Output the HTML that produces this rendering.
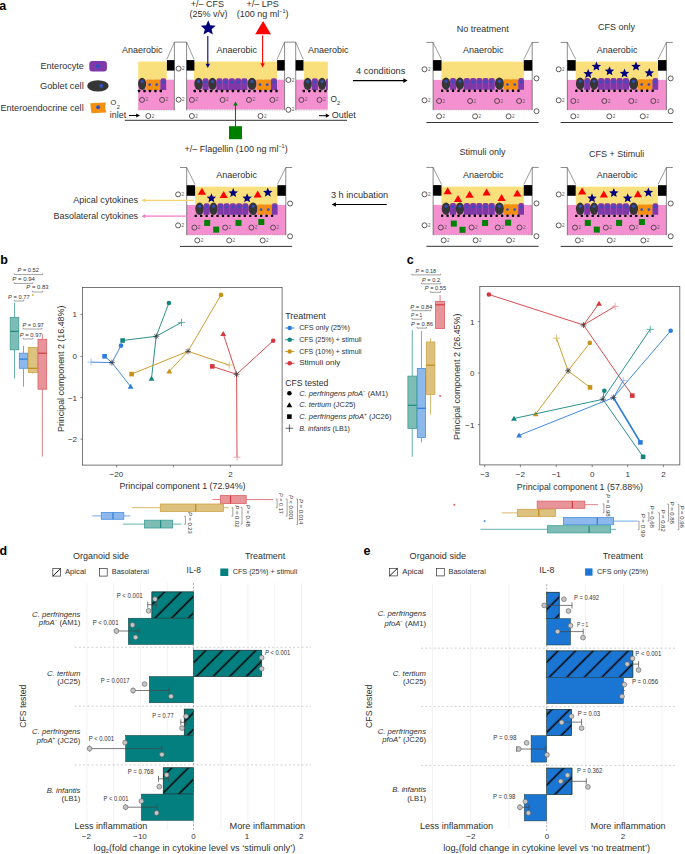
<!DOCTYPE html><html><head><meta charset="utf-8"><title>Figure</title><style>html,body{margin:0;padding:0;background:#fff;width:685px;height:854px;overflow:hidden}svg{display:block;font-family:"Liberation Sans",sans-serif}</style></head><body>
<svg width="685" height="854" viewBox="0 0 685 854">
<defs>
<pattern id="hd" patternUnits="userSpaceOnUse" width="11.77" height="10" patternTransform="rotate(45)"><rect x="4.5" y="0" width="1.5" height="10" fill="#000"/></pattern>
<pattern id="he" patternUnits="userSpaceOnUse" width="12.41" height="10" patternTransform="rotate(45)"><rect x="10.2" y="0" width="1.5" height="10" fill="#000"/></pattern>
</defs>
<rect x="0" y="0" width="685" height="854" fill="#fff"/>
<text x="-0.8" y="9.6" font-size="12.5" fill="#000" font-weight="bold">a</text>
<text x="40.6" y="69.2" font-size="9" fill="#303030" textLength="43.1" lengthAdjust="spacingAndGlyphs">Enterocyte</text>
<text x="40" y="88.8" font-size="9" fill="#303030" textLength="43.7" lengthAdjust="spacingAndGlyphs">Goblet cell</text>
<text x="0.4" y="110.7" font-size="9" fill="#303030" textLength="83.3" lengthAdjust="spacingAndGlyphs">Enteroendocrine cell</text>
<rect x="89.3" y="61" width="17.6" height="10.5" rx="3" fill="#7F38A8"/>
<circle cx="98" cy="66.2" r="2.2" fill="#3350C0"/>
<ellipse cx="97.9" cy="85.9" rx="10.7" ry="5.7" fill="#363636"/>
<circle cx="101.3" cy="85.8" r="2" fill="#3350C0"/>
<path d="M90.3 103.2 L105.8 102.4 L105.2 107.5 L106.2 112.6 L91.5 113.2 L90.8 108.5 Z" fill="#F5900F"/>
<circle cx="98.1" cy="107.2" r="2" fill="#3350C0"/>
<rect x="138.2" y="79.7" width="36.2" height="30.2" fill="#F48FD0"/>
<rect x="186.3" y="79.7" width="98.3" height="29.8" fill="#F48FD0"/>
<rect x="295.7" y="79.7" width="32.1" height="29.8" fill="#F48FD0"/>
<rect x="138.2" y="61.6" width="28.6" height="18.1" fill="#FAE07C"/>
<rect x="194" y="61.6" width="83.2" height="18.1" fill="#FAE07C"/>
<rect x="303.9" y="61.6" width="23.9" height="18.1" fill="#FAE07C"/>
<line x1="138.2" y1="110" x2="174.4" y2="110" stroke="#9a7a8e" stroke-width="0.5" stroke-dasharray="1.5 1"/>
<line x1="186.6" y1="110" x2="284.6" y2="110" stroke="#9a7a8e" stroke-width="0.5" stroke-dasharray="1.5 1"/>
<line x1="295.7" y1="110" x2="327.8" y2="110" stroke="#9a7a8e" stroke-width="0.5" stroke-dasharray="1.5 1"/>
<rect x="174.4" y="42.1" width="12.2" height="68" fill="#fff"/>
<line x1="174.4" y1="42.1" x2="186.6" y2="42.1" stroke="#3a3a3a" stroke-width="0.6"/>
<line x1="174.4" y1="42.1" x2="174.4" y2="110.2" stroke="#3a3a3a" stroke-width="0.6"/>
<line x1="186.6" y1="42.1" x2="186.6" y2="110.2" stroke="#3a3a3a" stroke-width="0.6"/>
<line x1="174.4" y1="42.1" x2="166.8" y2="59.5" stroke="#3a3a3a" stroke-width="0.5"/>
<line x1="186.6" y1="42.1" x2="194.1" y2="59.5" stroke="#3a3a3a" stroke-width="0.5"/>
<rect x="166.9" y="60.1" width="7.5" height="10.5" fill="#000"/>
<rect x="186.6" y="60.1" width="7.8" height="10.5" fill="#000"/>
<rect x="284.6" y="42.1" width="11.1" height="68" fill="#fff"/>
<line x1="284.6" y1="42.1" x2="295.7" y2="42.1" stroke="#3a3a3a" stroke-width="0.6"/>
<line x1="284.6" y1="42.1" x2="284.6" y2="110.2" stroke="#3a3a3a" stroke-width="0.6"/>
<line x1="295.7" y1="42.1" x2="295.7" y2="110.2" stroke="#3a3a3a" stroke-width="0.6"/>
<line x1="284.6" y1="42.1" x2="277" y2="59.5" stroke="#3a3a3a" stroke-width="0.5"/>
<line x1="295.7" y1="42.1" x2="303.2" y2="59.5" stroke="#3a3a3a" stroke-width="0.5"/>
<rect x="277.1" y="60.1" width="7.5" height="10.5" fill="#000"/>
<rect x="295.7" y="60.1" width="7.8" height="10.5" fill="#000"/>
<ellipse cx="142.1" cy="83.9" rx="4" ry="6.2" fill="#363636"/>
<circle cx="142.1" cy="81.42" r="1.5" fill="#3350C0"/>
<rect x="146.3" y="79.5" width="6.8" height="10.4" rx="0.6" fill="#F5900F"/>
<line x1="153.2" y1="80.5" x2="153.2" y2="88.9" stroke="#c87010" stroke-width="0.4" stroke-dasharray="1 1"/>
<circle cx="149.7" cy="84.7" r="1.35" fill="#3350C0"/>
<rect x="153.3" y="79.5" width="6.8" height="10.4" rx="0.6" fill="#F5900F"/>
<line x1="160.2" y1="80.5" x2="160.2" y2="88.9" stroke="#c87010" stroke-width="0.4" stroke-dasharray="1 1"/>
<circle cx="156.7" cy="84.7" r="1.35" fill="#3350C0"/>
<path d="M160.4 89.9 V80.5 Q160.4 78.3 162.6 78.3 H164 Q166.2 78.3 166.2 80.5 V89.9 Z" fill="#7F38A8"/>
<circle cx="163.3" cy="82.13" r="1.45" fill="#3350C0"/>
<ellipse cx="198.6" cy="83.9" rx="4.3" ry="6.2" fill="#363636"/>
<circle cx="198.6" cy="81.42" r="1.5" fill="#3350C0"/>
<path d="M202.6 89.9 V80.5 Q202.6 78.3 204.8 78.3 H206.4 Q208.6 78.3 208.6 80.5 V89.9 Z" fill="#7F38A8"/>
<circle cx="205.6" cy="82.13" r="1.45" fill="#3350C0"/>
<ellipse cx="212.5" cy="83.9" rx="4.2" ry="6.2" fill="#363636"/>
<circle cx="212.5" cy="81.42" r="1.5" fill="#3350C0"/>
<path d="M216.4 89.9 V80.5 Q216.4 78.3 218.6 78.3 H220.4 Q222.6 78.3 222.6 80.5 V89.9 Z" fill="#7F38A8"/>
<circle cx="219.5" cy="82.13" r="1.45" fill="#3350C0"/>
<path d="M222.6 89.9 V80.5 Q222.6 78.3 224.8 78.3 H226.6 Q228.8 78.3 228.8 80.5 V89.9 Z" fill="#7F38A8"/>
<circle cx="225.7" cy="82.13" r="1.45" fill="#3350C0"/>
<path d="M228.8 89.9 V80.5 Q228.8 78.3 231 78.3 H232.8 Q235 78.3 235 80.5 V89.9 Z" fill="#7F38A8"/>
<circle cx="231.9" cy="82.13" r="1.45" fill="#3350C0"/>
<path d="M235 89.9 V80.5 Q235 78.3 237.2 78.3 H239 Q241.2 78.3 241.2 80.5 V89.9 Z" fill="#7F38A8"/>
<circle cx="238.1" cy="82.13" r="1.45" fill="#3350C0"/>
<path d="M241.2 89.9 V80.5 Q241.2 78.3 243.4 78.3 H245.2 Q247.4 78.3 247.4 80.5 V89.9 Z" fill="#7F38A8"/>
<circle cx="244.3" cy="82.13" r="1.45" fill="#3350C0"/>
<ellipse cx="252" cy="83.9" rx="4.5" ry="6.2" fill="#363636"/>
<circle cx="252" cy="81.42" r="1.5" fill="#3350C0"/>
<rect x="256.5" y="79.5" width="7.1" height="10.4" rx="0.6" fill="#F5900F"/>
<line x1="263.7" y1="80.5" x2="263.7" y2="88.9" stroke="#c87010" stroke-width="0.4" stroke-dasharray="1 1"/>
<circle cx="260.05" cy="84.7" r="1.35" fill="#3350C0"/>
<rect x="263.8" y="79.5" width="7" height="10.4" rx="0.6" fill="#F5900F"/>
<line x1="270.9" y1="80.5" x2="270.9" y2="88.9" stroke="#c87010" stroke-width="0.4" stroke-dasharray="1 1"/>
<circle cx="267.3" cy="84.7" r="1.35" fill="#3350C0"/>
<path d="M270.9 89.9 V80.5 Q270.9 78.3 273.1 78.3 H274.8 Q277 78.3 277 80.5 V89.9 Z" fill="#7F38A8"/>
<circle cx="273.95" cy="82.13" r="1.45" fill="#3350C0"/>
<ellipse cx="307.7" cy="83.9" rx="4.1" ry="6.2" fill="#363636"/>
<circle cx="307.7" cy="81.42" r="1.5" fill="#3350C0"/>
<path d="M311.8 89.9 V80.5 Q311.8 78.3 314 78.3 H315.7 Q317.9 78.3 317.9 80.5 V89.9 Z" fill="#7F38A8"/>
<circle cx="314.85" cy="82.13" r="1.45" fill="#3350C0"/>
<ellipse cx="322.05" cy="83.9" rx="4.05" ry="6.2" fill="#363636"/>
<circle cx="322.05" cy="81.42" r="1.5" fill="#3350C0"/>
<path d="M326 89.9 V80.5 Q326 78.3 328.2 78.3 H328.8 Q331 78.3 331 80.5 V89.9 Z" fill="#7F38A8"/>
<circle cx="328.5" cy="82.13" r="1.45" fill="#3350C0"/>
<rect x="327.8" y="75" width="6" height="20" fill="#fff"/>
<rect x="137.9" y="89.8" width="2.3" height="2.4" rx="0.4" fill="#000"/>
<rect x="143.35" y="89.8" width="2.3" height="2.4" rx="0.4" fill="#000"/>
<rect x="148.8" y="89.8" width="2.3" height="2.4" rx="0.4" fill="#000"/>
<rect x="154.25" y="89.8" width="2.3" height="2.4" rx="0.4" fill="#000"/>
<rect x="159.7" y="89.8" width="2.3" height="2.4" rx="0.4" fill="#000"/>
<rect x="193.6" y="89.8" width="2.3" height="2.4" rx="0.4" fill="#000"/>
<rect x="199.05" y="89.8" width="2.3" height="2.4" rx="0.4" fill="#000"/>
<rect x="204.5" y="89.8" width="2.3" height="2.4" rx="0.4" fill="#000"/>
<rect x="209.95" y="89.8" width="2.3" height="2.4" rx="0.4" fill="#000"/>
<rect x="215.4" y="89.8" width="2.3" height="2.4" rx="0.4" fill="#000"/>
<rect x="220.85" y="89.8" width="2.3" height="2.4" rx="0.4" fill="#000"/>
<rect x="226.3" y="89.8" width="2.3" height="2.4" rx="0.4" fill="#000"/>
<rect x="231.75" y="89.8" width="2.3" height="2.4" rx="0.4" fill="#000"/>
<rect x="237.2" y="89.8" width="2.3" height="2.4" rx="0.4" fill="#000"/>
<rect x="242.65" y="89.8" width="2.3" height="2.4" rx="0.4" fill="#000"/>
<rect x="248.1" y="89.8" width="2.3" height="2.4" rx="0.4" fill="#000"/>
<rect x="253.55" y="89.8" width="2.3" height="2.4" rx="0.4" fill="#000"/>
<rect x="259" y="89.8" width="2.3" height="2.4" rx="0.4" fill="#000"/>
<rect x="264.45" y="89.8" width="2.3" height="2.4" rx="0.4" fill="#000"/>
<rect x="269.9" y="89.8" width="2.3" height="2.4" rx="0.4" fill="#000"/>
<rect x="275.35" y="89.8" width="2.3" height="2.4" rx="0.4" fill="#000"/>
<rect x="302.7" y="89.8" width="2.3" height="2.4" rx="0.4" fill="#000"/>
<rect x="308.1" y="89.8" width="2.3" height="2.4" rx="0.4" fill="#000"/>
<rect x="313.5" y="89.8" width="2.3" height="2.4" rx="0.4" fill="#000"/>
<rect x="318.9" y="89.8" width="2.3" height="2.4" rx="0.4" fill="#000"/>
<rect x="324.3" y="89.8" width="2.3" height="2.4" rx="0.4" fill="#000"/>
<circle cx="142" cy="99.9" r="2.5" fill="none" stroke="#333" stroke-width="0.8"/>
<text x="145.4" y="101.4" font-size="4.6" fill="#5a5a5a">2</text>
<circle cx="162.1" cy="99.9" r="2.5" fill="none" stroke="#333" stroke-width="0.8"/>
<text x="165.5" y="101.4" font-size="4.6" fill="#5a5a5a">2</text>
<circle cx="191.9" cy="99.9" r="2.5" fill="none" stroke="#333" stroke-width="0.8"/>
<text x="195.3" y="101.4" font-size="4.6" fill="#5a5a5a">2</text>
<circle cx="222.6" cy="99.9" r="2.5" fill="none" stroke="#333" stroke-width="0.8"/>
<text x="226" y="101.4" font-size="4.6" fill="#5a5a5a">2</text>
<circle cx="249" cy="99.9" r="2.5" fill="none" stroke="#333" stroke-width="0.8"/>
<text x="252.4" y="101.4" font-size="4.6" fill="#5a5a5a">2</text>
<circle cx="272.4" cy="99.9" r="2.5" fill="none" stroke="#333" stroke-width="0.8"/>
<text x="275.8" y="101.4" font-size="4.6" fill="#5a5a5a">2</text>
<circle cx="301.4" cy="99.9" r="2.5" fill="none" stroke="#333" stroke-width="0.8"/>
<text x="304.8" y="101.4" font-size="4.6" fill="#5a5a5a">2</text>
<circle cx="319.5" cy="99.9" r="2.5" fill="none" stroke="#333" stroke-width="0.8"/>
<text x="322.9" y="101.4" font-size="4.6" fill="#5a5a5a">2</text>
<circle cx="178.6" cy="68.6" r="2.5" fill="none" stroke="#333" stroke-width="0.8"/>
<text x="182" y="70.1" font-size="4.6" fill="#5a5a5a">2</text>
<circle cx="178.6" cy="99.7" r="2.5" fill="none" stroke="#333" stroke-width="0.8"/>
<text x="182" y="101.2" font-size="4.6" fill="#5a5a5a">2</text>
<circle cx="288.4" cy="80" r="2.5" fill="none" stroke="#333" stroke-width="0.8"/>
<text x="291.8" y="81.5" font-size="4.6" fill="#5a5a5a">2</text>
<circle cx="288.4" cy="109.8" r="2.5" fill="none" stroke="#333" stroke-width="0.8"/>
<text x="291.8" y="111.3" font-size="4.6" fill="#5a5a5a">2</text>
<circle cx="148.3" cy="116" r="2.5" fill="none" stroke="#333" stroke-width="0.8"/>
<text x="151.7" y="117.5" font-size="4.6" fill="#5a5a5a">2</text>
<circle cx="191.9" cy="116" r="2.5" fill="none" stroke="#333" stroke-width="0.8"/>
<text x="195.3" y="117.5" font-size="4.6" fill="#5a5a5a">2</text>
<circle cx="260.5" cy="116" r="2.5" fill="none" stroke="#333" stroke-width="0.8"/>
<text x="263.9" y="117.5" font-size="4.6" fill="#5a5a5a">2</text>
<line x1="124.8" y1="120.3" x2="347" y2="120.3" stroke="#333" stroke-width="1"/>
<text x="110.6" y="105" font-size="7.4" fill="#303030">O</text>
<text x="116.8" y="108.8" font-size="5.6" fill="#303030">2</text>
<text x="109.8" y="117.6" font-size="9" fill="#303030" textLength="16.4" lengthAdjust="spacingAndGlyphs">inlet</text>
<path d="M129 115.5 H138.5" fill="none" stroke="#000" stroke-width="1"/>
<path d="M136.2 113.4 L140 115.5 L136.2 117.6 Z" fill="#000"/>
<text x="330.6" y="102" font-size="8.3" fill="#303030">O</text>
<text x="337" y="104.8" font-size="5.6" fill="#303030">2</text>
<path d="M319 115.7 H327.8" fill="none" stroke="#000" stroke-width="1"/>
<path d="M325.8 113.6 L329.6 115.7 L325.8 117.8 Z" fill="#000"/>
<text x="331.7" y="118.2" font-size="9" fill="#303030">Outlet</text>
<text x="122" y="52.7" font-size="9" fill="#303030" textLength="40.6" lengthAdjust="spacingAndGlyphs">Anaerobic</text>
<text x="216.4" y="52.6" font-size="9" fill="#303030" textLength="40.6" lengthAdjust="spacingAndGlyphs">Anaerobic</text>
<text x="308" y="52.6" font-size="9" fill="#303030" textLength="40.6" lengthAdjust="spacingAndGlyphs">Anaerobic</text>
<text x="207.5" y="6.7" font-size="9" fill="#303030" text-anchor="middle">+/– CFS</text>
<text x="208.4" y="16.6" font-size="9" fill="#303030" text-anchor="middle">(25% v/v)</text>
<text x="262.7" y="6.7" font-size="9" fill="#303030" text-anchor="middle">+/– LPS</text>
<text x="262.6" y="16.6" font-size="9" fill="#303030" text-anchor="middle">(100 ng ml<tspan font-size="5.5" dy="-3.5">−1</tspan><tspan dy="3.5">)</tspan></text>
<polygon points="208.2,20.3 210.29,25.32 215.71,25.76 211.58,29.3 212.84,34.59 208.2,31.75 203.56,34.59 204.82,29.3 200.69,25.76 206.11,25.32" fill="#00007F"/>
<line x1="207.8" y1="36" x2="207.8" y2="65.5" stroke="#00007F" stroke-width="1.1"/>
<path d="M205.6 63.8 L207.8 68 L210 63.8 Z" fill="#00007F"/>
<polygon points="263.1,21 271,34.2 255.2,34.2" fill="#FF0000"/>
<line x1="262.6" y1="35.5" x2="262.6" y2="65" stroke="#FF0000" stroke-width="1.1"/>
<path d="M260.4 63.2 L262.6 67.4 L264.8 63.2 Z" fill="#FF0000"/>
<rect x="229" y="126.2" width="13" height="13" fill="#008000"/>
<line x1="235.5" y1="127" x2="235.5" y2="104.5" stroke="#008000" stroke-width="1.1"/>
<path d="M233.2 105.5 L235.5 101.4 L237.8 105.5 Z" fill="#008000"/>
<text x="184.6" y="151.8" font-size="9" fill="#303030">+/– Flagellin (100 ng ml<tspan font-size="5.5" dy="-3.5">−1</tspan><tspan dy="3.5">)</tspan></text>
<text x="356" y="74.3" font-size="9" fill="#303030" textLength="49.3" lengthAdjust="spacingAndGlyphs">4 conditions</text>
<line x1="353" y1="80.6" x2="404.5" y2="80.6" stroke="#000" stroke-width="1.2"/>
<path d="M403.4 78.3 L407.6 80.6 L403.4 82.9 Z" fill="#000"/>
<text x="482.8" y="31.9" font-size="9" fill="#303030" text-anchor="middle">No treatment</text>
<rect x="433.1" y="79.9" width="99.1" height="29.9" fill="#F48FD0"/>
<rect x="441.5" y="61.6" width="82.5" height="18.3" fill="#FAE07C"/>
<line x1="433.1" y1="109.8" x2="532.2" y2="109.8" stroke="#9a7a8e" stroke-width="0.5" stroke-dasharray="1.5 1"/>
<line x1="426.4" y1="42.4" x2="433.1" y2="42.4" stroke="#3a3a3a" stroke-width="0.6"/>
<line x1="433.1" y1="42.4" x2="433.1" y2="110" stroke="#3a3a3a" stroke-width="0.6"/>
<line x1="433.1" y1="42.4" x2="441.5" y2="59.4" stroke="#3a3a3a" stroke-width="0.5"/>
<line x1="532.2" y1="42.4" x2="538.6" y2="42.4" stroke="#3a3a3a" stroke-width="0.6"/>
<line x1="532.2" y1="42.4" x2="532.2" y2="110" stroke="#3a3a3a" stroke-width="0.6"/>
<line x1="532.2" y1="42.4" x2="523.8" y2="59.4" stroke="#3a3a3a" stroke-width="0.5"/>
<rect x="433.1" y="60.1" width="8.4" height="10.6" fill="#000"/>
<rect x="523.8" y="60.1" width="8.4" height="10.6" fill="#000"/>
<ellipse cx="446" cy="83.7" rx="4.3" ry="6.2" fill="#363636"/>
<circle cx="446" cy="81.22" r="1.5" fill="#3350C0"/>
<path d="M450 89.7 V80.3 Q450 78.1 452.2 78.1 H453.8 Q456 78.1 456 80.3 V89.7 Z" fill="#7F38A8"/>
<circle cx="453" cy="81.93" r="1.45" fill="#3350C0"/>
<ellipse cx="459.9" cy="83.7" rx="4.2" ry="6.2" fill="#363636"/>
<circle cx="459.9" cy="81.22" r="1.5" fill="#3350C0"/>
<path d="M463.8 89.7 V80.3 Q463.8 78.1 466 78.1 H467.8 Q470 78.1 470 80.3 V89.7 Z" fill="#7F38A8"/>
<circle cx="466.9" cy="81.93" r="1.45" fill="#3350C0"/>
<path d="M470 89.7 V80.3 Q470 78.1 472.2 78.1 H474 Q476.2 78.1 476.2 80.3 V89.7 Z" fill="#7F38A8"/>
<circle cx="473.1" cy="81.93" r="1.45" fill="#3350C0"/>
<path d="M476.2 89.7 V80.3 Q476.2 78.1 478.4 78.1 H480.2 Q482.4 78.1 482.4 80.3 V89.7 Z" fill="#7F38A8"/>
<circle cx="479.3" cy="81.93" r="1.45" fill="#3350C0"/>
<path d="M482.4 89.7 V80.3 Q482.4 78.1 484.6 78.1 H486.4 Q488.6 78.1 488.6 80.3 V89.7 Z" fill="#7F38A8"/>
<circle cx="485.5" cy="81.93" r="1.45" fill="#3350C0"/>
<path d="M488.6 89.7 V80.3 Q488.6 78.1 490.8 78.1 H492.6 Q494.8 78.1 494.8 80.3 V89.7 Z" fill="#7F38A8"/>
<circle cx="491.7" cy="81.93" r="1.45" fill="#3350C0"/>
<ellipse cx="499.4" cy="83.7" rx="4.5" ry="6.2" fill="#363636"/>
<circle cx="499.4" cy="81.22" r="1.5" fill="#3350C0"/>
<rect x="503.9" y="79.3" width="7.1" height="10.4" rx="0.6" fill="#F5900F"/>
<line x1="511.1" y1="80.3" x2="511.1" y2="88.7" stroke="#c87010" stroke-width="0.4" stroke-dasharray="1 1"/>
<circle cx="507.45" cy="84.5" r="1.35" fill="#3350C0"/>
<rect x="511.2" y="79.3" width="7" height="10.4" rx="0.6" fill="#F5900F"/>
<line x1="518.3" y1="80.3" x2="518.3" y2="88.7" stroke="#c87010" stroke-width="0.4" stroke-dasharray="1 1"/>
<circle cx="514.7" cy="84.5" r="1.35" fill="#3350C0"/>
<path d="M518.3 89.7 V80.3 Q518.3 78.1 520.5 78.1 H521.8 Q524 78.1 524 80.3 V89.7 Z" fill="#7F38A8"/>
<circle cx="521.15" cy="81.93" r="1.45" fill="#3350C0"/>
<rect x="441" y="89.6" width="2.3" height="2.4" rx="0.4" fill="#000"/>
<rect x="446.45" y="89.6" width="2.3" height="2.4" rx="0.4" fill="#000"/>
<rect x="451.9" y="89.6" width="2.3" height="2.4" rx="0.4" fill="#000"/>
<rect x="457.35" y="89.6" width="2.3" height="2.4" rx="0.4" fill="#000"/>
<rect x="462.8" y="89.6" width="2.3" height="2.4" rx="0.4" fill="#000"/>
<rect x="468.25" y="89.6" width="2.3" height="2.4" rx="0.4" fill="#000"/>
<rect x="473.7" y="89.6" width="2.3" height="2.4" rx="0.4" fill="#000"/>
<rect x="479.15" y="89.6" width="2.3" height="2.4" rx="0.4" fill="#000"/>
<rect x="484.6" y="89.6" width="2.3" height="2.4" rx="0.4" fill="#000"/>
<rect x="490.05" y="89.6" width="2.3" height="2.4" rx="0.4" fill="#000"/>
<rect x="495.5" y="89.6" width="2.3" height="2.4" rx="0.4" fill="#000"/>
<rect x="500.95" y="89.6" width="2.3" height="2.4" rx="0.4" fill="#000"/>
<rect x="506.4" y="89.6" width="2.3" height="2.4" rx="0.4" fill="#000"/>
<rect x="511.85" y="89.6" width="2.3" height="2.4" rx="0.4" fill="#000"/>
<rect x="517.3" y="89.6" width="2.3" height="2.4" rx="0.4" fill="#000"/>
<circle cx="439.1" cy="101" r="2.5" fill="none" stroke="#333" stroke-width="0.8"/>
<text x="442.5" y="102.5" font-size="4.6" fill="#5a5a5a">2</text>
<circle cx="470.1" cy="101" r="2.5" fill="none" stroke="#333" stroke-width="0.8"/>
<text x="473.5" y="102.5" font-size="4.6" fill="#5a5a5a">2</text>
<circle cx="497.1" cy="101" r="2.5" fill="none" stroke="#333" stroke-width="0.8"/>
<text x="500.5" y="102.5" font-size="4.6" fill="#5a5a5a">2</text>
<circle cx="519.1" cy="101" r="2.5" fill="none" stroke="#333" stroke-width="0.8"/>
<text x="522.5" y="102.5" font-size="4.6" fill="#5a5a5a">2</text>
<circle cx="424.5" cy="69.3" r="2.5" fill="none" stroke="#333" stroke-width="0.8"/>
<text x="427.9" y="70.8" font-size="4.6" fill="#5a5a5a">2</text>
<circle cx="424.5" cy="100.3" r="2.5" fill="none" stroke="#333" stroke-width="0.8"/>
<text x="427.9" y="101.8" font-size="4.6" fill="#5a5a5a">2</text>
<circle cx="536.5" cy="78.4" r="2.5" fill="none" stroke="#333" stroke-width="0.8"/>
<circle cx="536.5" cy="111.2" r="2.5" fill="none" stroke="#333" stroke-width="0.8"/>
<circle cx="439.1" cy="116.3" r="2.5" fill="none" stroke="#333" stroke-width="0.8"/>
<text x="442.5" y="117.8" font-size="4.6" fill="#5a5a5a">2</text>
<circle cx="475.1" cy="116.3" r="2.5" fill="none" stroke="#333" stroke-width="0.8"/>
<text x="478.5" y="117.8" font-size="4.6" fill="#5a5a5a">2</text>
<circle cx="508.6" cy="116.3" r="2.5" fill="none" stroke="#333" stroke-width="0.8"/>
<text x="512" y="117.8" font-size="4.6" fill="#5a5a5a">2</text>
<line x1="426.4" y1="122.5" x2="538.6" y2="122.5" stroke="#333" stroke-width="1"/>
<text x="462.9" y="52.8" font-size="9" fill="#303030" textLength="40.6" lengthAdjust="spacingAndGlyphs">Anaerobic</text>
<text x="616.5" y="29.9" font-size="9" fill="#303030" text-anchor="middle">CFS only</text>
<rect x="567.3" y="79.9" width="99.1" height="29.9" fill="#F48FD0"/>
<rect x="575.7" y="61.6" width="82.5" height="18.3" fill="#FAE07C"/>
<line x1="567.3" y1="109.8" x2="666.4" y2="109.8" stroke="#9a7a8e" stroke-width="0.5" stroke-dasharray="1.5 1"/>
<line x1="560.6" y1="42.4" x2="567.3" y2="42.4" stroke="#3a3a3a" stroke-width="0.6"/>
<line x1="567.3" y1="42.4" x2="567.3" y2="110" stroke="#3a3a3a" stroke-width="0.6"/>
<line x1="567.3" y1="42.4" x2="575.7" y2="59.4" stroke="#3a3a3a" stroke-width="0.5"/>
<line x1="666.4" y1="42.4" x2="672.8" y2="42.4" stroke="#3a3a3a" stroke-width="0.6"/>
<line x1="666.4" y1="42.4" x2="666.4" y2="110" stroke="#3a3a3a" stroke-width="0.6"/>
<line x1="666.4" y1="42.4" x2="658" y2="59.4" stroke="#3a3a3a" stroke-width="0.5"/>
<rect x="567.3" y="60.1" width="8.4" height="10.6" fill="#000"/>
<rect x="658" y="60.1" width="8.4" height="10.6" fill="#000"/>
<ellipse cx="580.2" cy="83.7" rx="4.3" ry="6.2" fill="#363636"/>
<circle cx="580.2" cy="81.22" r="1.5" fill="#3350C0"/>
<path d="M584.2 89.7 V80.3 Q584.2 78.1 586.4 78.1 H588 Q590.2 78.1 590.2 80.3 V89.7 Z" fill="#7F38A8"/>
<circle cx="587.2" cy="81.93" r="1.45" fill="#3350C0"/>
<ellipse cx="594.1" cy="83.7" rx="4.2" ry="6.2" fill="#363636"/>
<circle cx="594.1" cy="81.22" r="1.5" fill="#3350C0"/>
<path d="M598 89.7 V80.3 Q598 78.1 600.2 78.1 H602 Q604.2 78.1 604.2 80.3 V89.7 Z" fill="#7F38A8"/>
<circle cx="601.1" cy="81.93" r="1.45" fill="#3350C0"/>
<path d="M604.2 89.7 V80.3 Q604.2 78.1 606.4 78.1 H608.2 Q610.4 78.1 610.4 80.3 V89.7 Z" fill="#7F38A8"/>
<circle cx="607.3" cy="81.93" r="1.45" fill="#3350C0"/>
<path d="M610.4 89.7 V80.3 Q610.4 78.1 612.6 78.1 H614.4 Q616.6 78.1 616.6 80.3 V89.7 Z" fill="#7F38A8"/>
<circle cx="613.5" cy="81.93" r="1.45" fill="#3350C0"/>
<path d="M616.6 89.7 V80.3 Q616.6 78.1 618.8 78.1 H620.6 Q622.8 78.1 622.8 80.3 V89.7 Z" fill="#7F38A8"/>
<circle cx="619.7" cy="81.93" r="1.45" fill="#3350C0"/>
<path d="M622.8 89.7 V80.3 Q622.8 78.1 625 78.1 H626.8 Q629 78.1 629 80.3 V89.7 Z" fill="#7F38A8"/>
<circle cx="625.9" cy="81.93" r="1.45" fill="#3350C0"/>
<ellipse cx="633.6" cy="83.7" rx="4.5" ry="6.2" fill="#363636"/>
<circle cx="633.6" cy="81.22" r="1.5" fill="#3350C0"/>
<rect x="638.1" y="79.3" width="7.1" height="10.4" rx="0.6" fill="#F5900F"/>
<line x1="645.3" y1="80.3" x2="645.3" y2="88.7" stroke="#c87010" stroke-width="0.4" stroke-dasharray="1 1"/>
<circle cx="641.65" cy="84.5" r="1.35" fill="#3350C0"/>
<rect x="645.4" y="79.3" width="7" height="10.4" rx="0.6" fill="#F5900F"/>
<line x1="652.5" y1="80.3" x2="652.5" y2="88.7" stroke="#c87010" stroke-width="0.4" stroke-dasharray="1 1"/>
<circle cx="648.9" cy="84.5" r="1.35" fill="#3350C0"/>
<path d="M652.5 89.7 V80.3 Q652.5 78.1 654.7 78.1 H656 Q658.2 78.1 658.2 80.3 V89.7 Z" fill="#7F38A8"/>
<circle cx="655.35" cy="81.93" r="1.45" fill="#3350C0"/>
<rect x="575.2" y="89.6" width="2.3" height="2.4" rx="0.4" fill="#000"/>
<rect x="580.65" y="89.6" width="2.3" height="2.4" rx="0.4" fill="#000"/>
<rect x="586.1" y="89.6" width="2.3" height="2.4" rx="0.4" fill="#000"/>
<rect x="591.55" y="89.6" width="2.3" height="2.4" rx="0.4" fill="#000"/>
<rect x="597" y="89.6" width="2.3" height="2.4" rx="0.4" fill="#000"/>
<rect x="602.45" y="89.6" width="2.3" height="2.4" rx="0.4" fill="#000"/>
<rect x="607.9" y="89.6" width="2.3" height="2.4" rx="0.4" fill="#000"/>
<rect x="613.35" y="89.6" width="2.3" height="2.4" rx="0.4" fill="#000"/>
<rect x="618.8" y="89.6" width="2.3" height="2.4" rx="0.4" fill="#000"/>
<rect x="624.25" y="89.6" width="2.3" height="2.4" rx="0.4" fill="#000"/>
<rect x="629.7" y="89.6" width="2.3" height="2.4" rx="0.4" fill="#000"/>
<rect x="635.15" y="89.6" width="2.3" height="2.4" rx="0.4" fill="#000"/>
<rect x="640.6" y="89.6" width="2.3" height="2.4" rx="0.4" fill="#000"/>
<rect x="646.05" y="89.6" width="2.3" height="2.4" rx="0.4" fill="#000"/>
<rect x="651.5" y="89.6" width="2.3" height="2.4" rx="0.4" fill="#000"/>
<circle cx="573.3" cy="101" r="2.5" fill="none" stroke="#333" stroke-width="0.8"/>
<text x="576.7" y="102.5" font-size="4.6" fill="#5a5a5a">2</text>
<circle cx="604.3" cy="101" r="2.5" fill="none" stroke="#333" stroke-width="0.8"/>
<text x="607.7" y="102.5" font-size="4.6" fill="#5a5a5a">2</text>
<circle cx="631.3" cy="101" r="2.5" fill="none" stroke="#333" stroke-width="0.8"/>
<text x="634.7" y="102.5" font-size="4.6" fill="#5a5a5a">2</text>
<circle cx="653.3" cy="101" r="2.5" fill="none" stroke="#333" stroke-width="0.8"/>
<text x="656.7" y="102.5" font-size="4.6" fill="#5a5a5a">2</text>
<circle cx="558.7" cy="69.3" r="2.5" fill="none" stroke="#333" stroke-width="0.8"/>
<text x="562.1" y="70.8" font-size="4.6" fill="#5a5a5a">2</text>
<circle cx="558.7" cy="100.3" r="2.5" fill="none" stroke="#333" stroke-width="0.8"/>
<text x="562.1" y="101.8" font-size="4.6" fill="#5a5a5a">2</text>
<circle cx="670.7" cy="78.4" r="2.5" fill="none" stroke="#333" stroke-width="0.8"/>
<circle cx="670.7" cy="111.2" r="2.5" fill="none" stroke="#333" stroke-width="0.8"/>
<circle cx="573.3" cy="116.3" r="2.5" fill="none" stroke="#333" stroke-width="0.8"/>
<text x="576.7" y="117.8" font-size="4.6" fill="#5a5a5a">2</text>
<circle cx="609.3" cy="116.3" r="2.5" fill="none" stroke="#333" stroke-width="0.8"/>
<text x="612.7" y="117.8" font-size="4.6" fill="#5a5a5a">2</text>
<circle cx="642.8" cy="116.3" r="2.5" fill="none" stroke="#333" stroke-width="0.8"/>
<text x="646.2" y="117.8" font-size="4.6" fill="#5a5a5a">2</text>
<line x1="560.6" y1="122.5" x2="672.8" y2="122.5" stroke="#333" stroke-width="1"/>
<polygon points="588.2,68.9 589.52,72.08 592.96,72.35 590.34,74.6 591.14,77.95 588.2,76.15 585.26,77.95 586.06,74.6 583.44,72.35 586.88,72.08" fill="#00007F"/>
<polygon points="596.4,61.5 597.72,64.68 601.16,64.95 598.54,67.2 599.34,70.55 596.4,68.75 593.46,70.55 594.26,67.2 591.64,64.95 595.08,64.68" fill="#00007F"/>
<polygon points="609.5,66.3 610.82,69.48 614.26,69.75 611.64,72 612.44,75.35 609.5,73.55 606.56,75.35 607.36,72 604.74,69.75 608.18,69.48" fill="#00007F"/>
<polygon points="624.5,68.5 625.82,71.68 629.26,71.95 626.64,74.2 627.44,77.55 624.5,75.75 621.56,77.55 622.36,74.2 619.74,71.95 623.18,71.68" fill="#00007F"/>
<polygon points="636,61.5 637.32,64.68 640.76,64.95 638.14,67.2 638.94,70.55 636,68.75 633.06,70.55 633.86,67.2 631.24,64.95 634.68,64.68" fill="#00007F"/>
<polygon points="649.3,68 650.62,71.18 654.06,71.45 651.44,73.7 652.24,77.05 649.3,75.25 646.36,77.05 647.16,73.7 644.54,71.45 647.98,71.18" fill="#00007F"/>
<text x="596.8" y="52.8" font-size="9" fill="#303030" textLength="40.6" lengthAdjust="spacingAndGlyphs">Anaerobic</text>
<text x="482.6" y="154.6" font-size="9" fill="#303030" text-anchor="middle">Stimuli only</text>
<rect x="433.1" y="204.9" width="99.1" height="29.9" fill="#F48FD0"/>
<rect x="441.5" y="186.6" width="82.5" height="18.3" fill="#FAE07C"/>
<line x1="433.1" y1="234.8" x2="532.2" y2="234.8" stroke="#9a7a8e" stroke-width="0.5" stroke-dasharray="1.5 1"/>
<line x1="426.4" y1="167.4" x2="433.1" y2="167.4" stroke="#3a3a3a" stroke-width="0.6"/>
<line x1="433.1" y1="167.4" x2="433.1" y2="235" stroke="#3a3a3a" stroke-width="0.6"/>
<line x1="433.1" y1="167.4" x2="441.5" y2="184.4" stroke="#3a3a3a" stroke-width="0.5"/>
<line x1="532.2" y1="167.4" x2="538.6" y2="167.4" stroke="#3a3a3a" stroke-width="0.6"/>
<line x1="532.2" y1="167.4" x2="532.2" y2="235" stroke="#3a3a3a" stroke-width="0.6"/>
<line x1="532.2" y1="167.4" x2="523.8" y2="184.4" stroke="#3a3a3a" stroke-width="0.5"/>
<rect x="433.1" y="185.1" width="8.4" height="10.6" fill="#000"/>
<rect x="523.8" y="185.1" width="8.4" height="10.6" fill="#000"/>
<ellipse cx="446" cy="208.7" rx="4.3" ry="6.2" fill="#363636"/>
<circle cx="446" cy="206.22" r="1.5" fill="#3350C0"/>
<path d="M450 214.7 V205.3 Q450 203.1 452.2 203.1 H453.8 Q456 203.1 456 205.3 V214.7 Z" fill="#7F38A8"/>
<circle cx="453" cy="206.93" r="1.45" fill="#3350C0"/>
<ellipse cx="459.9" cy="208.7" rx="4.2" ry="6.2" fill="#363636"/>
<circle cx="459.9" cy="206.22" r="1.5" fill="#3350C0"/>
<path d="M463.8 214.7 V205.3 Q463.8 203.1 466 203.1 H467.8 Q470 203.1 470 205.3 V214.7 Z" fill="#7F38A8"/>
<circle cx="466.9" cy="206.93" r="1.45" fill="#3350C0"/>
<path d="M470 214.7 V205.3 Q470 203.1 472.2 203.1 H474 Q476.2 203.1 476.2 205.3 V214.7 Z" fill="#7F38A8"/>
<circle cx="473.1" cy="206.93" r="1.45" fill="#3350C0"/>
<path d="M476.2 214.7 V205.3 Q476.2 203.1 478.4 203.1 H480.2 Q482.4 203.1 482.4 205.3 V214.7 Z" fill="#7F38A8"/>
<circle cx="479.3" cy="206.93" r="1.45" fill="#3350C0"/>
<path d="M482.4 214.7 V205.3 Q482.4 203.1 484.6 203.1 H486.4 Q488.6 203.1 488.6 205.3 V214.7 Z" fill="#7F38A8"/>
<circle cx="485.5" cy="206.93" r="1.45" fill="#3350C0"/>
<path d="M488.6 214.7 V205.3 Q488.6 203.1 490.8 203.1 H492.6 Q494.8 203.1 494.8 205.3 V214.7 Z" fill="#7F38A8"/>
<circle cx="491.7" cy="206.93" r="1.45" fill="#3350C0"/>
<ellipse cx="499.4" cy="208.7" rx="4.5" ry="6.2" fill="#363636"/>
<circle cx="499.4" cy="206.22" r="1.5" fill="#3350C0"/>
<rect x="503.9" y="204.3" width="7.1" height="10.4" rx="0.6" fill="#F5900F"/>
<line x1="511.1" y1="205.3" x2="511.1" y2="213.7" stroke="#c87010" stroke-width="0.4" stroke-dasharray="1 1"/>
<circle cx="507.45" cy="209.5" r="1.35" fill="#3350C0"/>
<rect x="511.2" y="204.3" width="7" height="10.4" rx="0.6" fill="#F5900F"/>
<line x1="518.3" y1="205.3" x2="518.3" y2="213.7" stroke="#c87010" stroke-width="0.4" stroke-dasharray="1 1"/>
<circle cx="514.7" cy="209.5" r="1.35" fill="#3350C0"/>
<path d="M518.3 214.7 V205.3 Q518.3 203.1 520.5 203.1 H521.8 Q524 203.1 524 205.3 V214.7 Z" fill="#7F38A8"/>
<circle cx="521.15" cy="206.93" r="1.45" fill="#3350C0"/>
<rect x="441" y="214.6" width="2.3" height="2.4" rx="0.4" fill="#000"/>
<rect x="446.45" y="214.6" width="2.3" height="2.4" rx="0.4" fill="#000"/>
<rect x="451.9" y="214.6" width="2.3" height="2.4" rx="0.4" fill="#000"/>
<rect x="457.35" y="214.6" width="2.3" height="2.4" rx="0.4" fill="#000"/>
<rect x="462.8" y="214.6" width="2.3" height="2.4" rx="0.4" fill="#000"/>
<rect x="468.25" y="214.6" width="2.3" height="2.4" rx="0.4" fill="#000"/>
<rect x="473.7" y="214.6" width="2.3" height="2.4" rx="0.4" fill="#000"/>
<rect x="479.15" y="214.6" width="2.3" height="2.4" rx="0.4" fill="#000"/>
<rect x="484.6" y="214.6" width="2.3" height="2.4" rx="0.4" fill="#000"/>
<rect x="490.05" y="214.6" width="2.3" height="2.4" rx="0.4" fill="#000"/>
<rect x="495.5" y="214.6" width="2.3" height="2.4" rx="0.4" fill="#000"/>
<rect x="500.95" y="214.6" width="2.3" height="2.4" rx="0.4" fill="#000"/>
<rect x="506.4" y="214.6" width="2.3" height="2.4" rx="0.4" fill="#000"/>
<rect x="511.85" y="214.6" width="2.3" height="2.4" rx="0.4" fill="#000"/>
<rect x="517.3" y="214.6" width="2.3" height="2.4" rx="0.4" fill="#000"/>
<circle cx="440.8" cy="227.5" r="2.5" fill="none" stroke="#333" stroke-width="0.8"/>
<text x="444.2" y="229" font-size="4.6" fill="#5a5a5a">2</text>
<circle cx="471.6" cy="227.5" r="2.5" fill="none" stroke="#333" stroke-width="0.8"/>
<text x="475" y="229" font-size="4.6" fill="#5a5a5a">2</text>
<circle cx="497.8" cy="227.5" r="2.5" fill="none" stroke="#333" stroke-width="0.8"/>
<text x="501.2" y="229" font-size="4.6" fill="#5a5a5a">2</text>
<circle cx="519.5" cy="227.5" r="2.5" fill="none" stroke="#333" stroke-width="0.8"/>
<text x="522.9" y="229" font-size="4.6" fill="#5a5a5a">2</text>
<circle cx="424.5" cy="194.3" r="2.5" fill="none" stroke="#333" stroke-width="0.8"/>
<text x="427.9" y="195.8" font-size="4.6" fill="#5a5a5a">2</text>
<circle cx="424.5" cy="225.3" r="2.5" fill="none" stroke="#333" stroke-width="0.8"/>
<text x="427.9" y="226.8" font-size="4.6" fill="#5a5a5a">2</text>
<circle cx="536.5" cy="203.4" r="2.5" fill="none" stroke="#333" stroke-width="0.8"/>
<circle cx="536.5" cy="236.2" r="2.5" fill="none" stroke="#333" stroke-width="0.8"/>
<circle cx="443.7" cy="240.3" r="2.5" fill="none" stroke="#333" stroke-width="0.8"/>
<text x="447.1" y="241.8" font-size="4.6" fill="#5a5a5a">2</text>
<circle cx="475.6" cy="240.3" r="2.5" fill="none" stroke="#333" stroke-width="0.8"/>
<text x="479" y="241.8" font-size="4.6" fill="#5a5a5a">2</text>
<circle cx="509.1" cy="240.3" r="2.5" fill="none" stroke="#333" stroke-width="0.8"/>
<text x="512.5" y="241.8" font-size="4.6" fill="#5a5a5a">2</text>
<line x1="426.4" y1="246.3" x2="538.6" y2="246.3" stroke="#333" stroke-width="1"/>
<rect x="450.8" y="220.6" width="6" height="6" fill="#008000"/>
<rect x="459.5" y="226.8" width="6" height="6" fill="#008000"/>
<rect x="482.1" y="220" width="6" height="6" fill="#008000"/>
<rect x="505.1" y="219.7" width="6" height="6" fill="#008000"/>
<polygon points="447.7,187.2 451.8,194.2 443.6,194.2" fill="#FF0000"/>
<polygon points="458,194.9 462.1,201.9 453.9,201.9" fill="#FF0000"/>
<polygon points="469.6,190.7 473.7,197.7 465.5,197.7" fill="#FF0000"/>
<polygon points="486.6,188.5 490.7,195.5 482.5,195.5" fill="#FF0000"/>
<polygon points="501.6,194 505.7,201 497.5,201" fill="#FF0000"/>
<polygon points="517.3,189.4 521.4,196.4 513.2,196.4" fill="#FF0000"/>
<text x="462.9" y="177.6" font-size="9" fill="#303030" textLength="40.6" lengthAdjust="spacingAndGlyphs">Anaerobic</text>
<text x="616.7" y="156.7" font-size="9" fill="#303030" text-anchor="middle">CFS + Stimuli</text>
<rect x="567.3" y="205" width="99.1" height="29.9" fill="#F48FD0"/>
<rect x="575.7" y="186.7" width="82.5" height="18.3" fill="#FAE07C"/>
<line x1="567.3" y1="234.9" x2="666.4" y2="234.9" stroke="#9a7a8e" stroke-width="0.5" stroke-dasharray="1.5 1"/>
<line x1="560.6" y1="167.5" x2="567.3" y2="167.5" stroke="#3a3a3a" stroke-width="0.6"/>
<line x1="567.3" y1="167.5" x2="567.3" y2="235.1" stroke="#3a3a3a" stroke-width="0.6"/>
<line x1="567.3" y1="167.5" x2="575.7" y2="184.5" stroke="#3a3a3a" stroke-width="0.5"/>
<line x1="666.4" y1="167.5" x2="672.8" y2="167.5" stroke="#3a3a3a" stroke-width="0.6"/>
<line x1="666.4" y1="167.5" x2="666.4" y2="235.1" stroke="#3a3a3a" stroke-width="0.6"/>
<line x1="666.4" y1="167.5" x2="658" y2="184.5" stroke="#3a3a3a" stroke-width="0.5"/>
<rect x="567.3" y="185.2" width="8.4" height="10.6" fill="#000"/>
<rect x="658" y="185.2" width="8.4" height="10.6" fill="#000"/>
<ellipse cx="580.2" cy="208.8" rx="4.3" ry="6.2" fill="#363636"/>
<circle cx="580.2" cy="206.32" r="1.5" fill="#3350C0"/>
<path d="M584.2 214.8 V205.4 Q584.2 203.2 586.4 203.2 H588 Q590.2 203.2 590.2 205.4 V214.8 Z" fill="#7F38A8"/>
<circle cx="587.2" cy="207.03" r="1.45" fill="#3350C0"/>
<ellipse cx="594.1" cy="208.8" rx="4.2" ry="6.2" fill="#363636"/>
<circle cx="594.1" cy="206.32" r="1.5" fill="#3350C0"/>
<path d="M598 214.8 V205.4 Q598 203.2 600.2 203.2 H602 Q604.2 203.2 604.2 205.4 V214.8 Z" fill="#7F38A8"/>
<circle cx="601.1" cy="207.03" r="1.45" fill="#3350C0"/>
<path d="M604.2 214.8 V205.4 Q604.2 203.2 606.4 203.2 H608.2 Q610.4 203.2 610.4 205.4 V214.8 Z" fill="#7F38A8"/>
<circle cx="607.3" cy="207.03" r="1.45" fill="#3350C0"/>
<path d="M610.4 214.8 V205.4 Q610.4 203.2 612.6 203.2 H614.4 Q616.6 203.2 616.6 205.4 V214.8 Z" fill="#7F38A8"/>
<circle cx="613.5" cy="207.03" r="1.45" fill="#3350C0"/>
<path d="M616.6 214.8 V205.4 Q616.6 203.2 618.8 203.2 H620.6 Q622.8 203.2 622.8 205.4 V214.8 Z" fill="#7F38A8"/>
<circle cx="619.7" cy="207.03" r="1.45" fill="#3350C0"/>
<path d="M622.8 214.8 V205.4 Q622.8 203.2 625 203.2 H626.8 Q629 203.2 629 205.4 V214.8 Z" fill="#7F38A8"/>
<circle cx="625.9" cy="207.03" r="1.45" fill="#3350C0"/>
<ellipse cx="633.6" cy="208.8" rx="4.5" ry="6.2" fill="#363636"/>
<circle cx="633.6" cy="206.32" r="1.5" fill="#3350C0"/>
<rect x="638.1" y="204.4" width="7.1" height="10.4" rx="0.6" fill="#F5900F"/>
<line x1="645.3" y1="205.4" x2="645.3" y2="213.8" stroke="#c87010" stroke-width="0.4" stroke-dasharray="1 1"/>
<circle cx="641.65" cy="209.6" r="1.35" fill="#3350C0"/>
<rect x="645.4" y="204.4" width="7" height="10.4" rx="0.6" fill="#F5900F"/>
<line x1="652.5" y1="205.4" x2="652.5" y2="213.8" stroke="#c87010" stroke-width="0.4" stroke-dasharray="1 1"/>
<circle cx="648.9" cy="209.6" r="1.35" fill="#3350C0"/>
<path d="M652.5 214.8 V205.4 Q652.5 203.2 654.7 203.2 H656 Q658.2 203.2 658.2 205.4 V214.8 Z" fill="#7F38A8"/>
<circle cx="655.35" cy="207.03" r="1.45" fill="#3350C0"/>
<rect x="575.2" y="214.7" width="2.3" height="2.4" rx="0.4" fill="#000"/>
<rect x="580.65" y="214.7" width="2.3" height="2.4" rx="0.4" fill="#000"/>
<rect x="586.1" y="214.7" width="2.3" height="2.4" rx="0.4" fill="#000"/>
<rect x="591.55" y="214.7" width="2.3" height="2.4" rx="0.4" fill="#000"/>
<rect x="597" y="214.7" width="2.3" height="2.4" rx="0.4" fill="#000"/>
<rect x="602.45" y="214.7" width="2.3" height="2.4" rx="0.4" fill="#000"/>
<rect x="607.9" y="214.7" width="2.3" height="2.4" rx="0.4" fill="#000"/>
<rect x="613.35" y="214.7" width="2.3" height="2.4" rx="0.4" fill="#000"/>
<rect x="618.8" y="214.7" width="2.3" height="2.4" rx="0.4" fill="#000"/>
<rect x="624.25" y="214.7" width="2.3" height="2.4" rx="0.4" fill="#000"/>
<rect x="629.7" y="214.7" width="2.3" height="2.4" rx="0.4" fill="#000"/>
<rect x="635.15" y="214.7" width="2.3" height="2.4" rx="0.4" fill="#000"/>
<rect x="640.6" y="214.7" width="2.3" height="2.4" rx="0.4" fill="#000"/>
<rect x="646.05" y="214.7" width="2.3" height="2.4" rx="0.4" fill="#000"/>
<rect x="651.5" y="214.7" width="2.3" height="2.4" rx="0.4" fill="#000"/>
<circle cx="575" cy="227.6" r="2.5" fill="none" stroke="#333" stroke-width="0.8"/>
<text x="578.4" y="229.1" font-size="4.6" fill="#5a5a5a">2</text>
<circle cx="605.8" cy="227.6" r="2.5" fill="none" stroke="#333" stroke-width="0.8"/>
<text x="609.2" y="229.1" font-size="4.6" fill="#5a5a5a">2</text>
<circle cx="632" cy="227.6" r="2.5" fill="none" stroke="#333" stroke-width="0.8"/>
<text x="635.4" y="229.1" font-size="4.6" fill="#5a5a5a">2</text>
<circle cx="653.7" cy="227.6" r="2.5" fill="none" stroke="#333" stroke-width="0.8"/>
<text x="657.1" y="229.1" font-size="4.6" fill="#5a5a5a">2</text>
<circle cx="558.7" cy="194.4" r="2.5" fill="none" stroke="#333" stroke-width="0.8"/>
<text x="562.1" y="195.9" font-size="4.6" fill="#5a5a5a">2</text>
<circle cx="558.7" cy="225.4" r="2.5" fill="none" stroke="#333" stroke-width="0.8"/>
<text x="562.1" y="226.9" font-size="4.6" fill="#5a5a5a">2</text>
<circle cx="670.7" cy="203.5" r="2.5" fill="none" stroke="#333" stroke-width="0.8"/>
<circle cx="670.7" cy="236.3" r="2.5" fill="none" stroke="#333" stroke-width="0.8"/>
<circle cx="577.9" cy="240.4" r="2.5" fill="none" stroke="#333" stroke-width="0.8"/>
<text x="581.3" y="241.9" font-size="4.6" fill="#5a5a5a">2</text>
<circle cx="609.8" cy="240.4" r="2.5" fill="none" stroke="#333" stroke-width="0.8"/>
<text x="613.2" y="241.9" font-size="4.6" fill="#5a5a5a">2</text>
<circle cx="643.3" cy="240.4" r="2.5" fill="none" stroke="#333" stroke-width="0.8"/>
<text x="646.7" y="241.9" font-size="4.6" fill="#5a5a5a">2</text>
<line x1="560.6" y1="246.4" x2="672.8" y2="246.4" stroke="#333" stroke-width="1"/>
<rect x="584.8" y="219.9" width="6" height="6" fill="#008000"/>
<rect x="593.8" y="226.6" width="6" height="6" fill="#008000"/>
<rect x="616.1" y="219.9" width="6" height="6" fill="#008000"/>
<rect x="638.9" y="219" width="6" height="6" fill="#008000"/>
<polygon points="582.1,187.4 586.2,194.4 578,194.4" fill="#FF0000"/>
<polygon points="603.8,190.6 607.9,197.6 599.7,197.6" fill="#FF0000"/>
<polygon points="637.9,190.2 642,197.2 633.8,197.2" fill="#FF0000"/>
<polygon points="592,193.3 593.32,196.48 596.76,196.75 594.14,199 594.94,202.35 592,200.55 589.06,202.35 589.86,199 587.24,196.75 590.68,196.48" fill="#00007F"/>
<polygon points="613.8,188 615.12,191.18 618.56,191.45 615.94,193.7 616.74,197.05 613.8,195.25 610.86,197.05 611.66,193.7 609.04,191.45 612.48,191.18" fill="#00007F"/>
<polygon points="627.7,193.3 629.02,196.48 632.46,196.75 629.84,199 630.64,202.35 627.7,200.55 624.76,202.35 625.56,199 622.94,196.75 626.38,196.48" fill="#00007F"/>
<polygon points="648.4,187.6 649.72,190.78 653.16,191.05 650.54,193.3 651.34,196.65 648.4,194.85 645.46,196.65 646.26,193.3 643.64,191.05 647.08,190.78" fill="#00007F"/>
<text x="596.8" y="177.6" font-size="9" fill="#303030" textLength="40.6" lengthAdjust="spacingAndGlyphs">Anaerobic</text>
<text x="330.9" y="198.1" font-size="9" fill="#303030" textLength="57.3" lengthAdjust="spacingAndGlyphs">3 h incubation</text>
<line x1="334.5" y1="204.5" x2="386.8" y2="204.5" stroke="#000" stroke-width="1.2"/>
<path d="M335.9 202.2 L331.7 204.5 L335.9 206.8 Z" fill="#000"/>
<text x="186" y="151.8" font-size="9" fill="#231f20"></text>
<rect x="186.7" y="205" width="99.1" height="29.9" fill="#F48FD0"/>
<rect x="195.1" y="186.7" width="82.5" height="18.3" fill="#FAE07C"/>
<line x1="186.7" y1="234.9" x2="285.8" y2="234.9" stroke="#9a7a8e" stroke-width="0.5" stroke-dasharray="1.5 1"/>
<line x1="180" y1="167.5" x2="186.7" y2="167.5" stroke="#3a3a3a" stroke-width="0.6"/>
<line x1="186.7" y1="167.5" x2="186.7" y2="235.1" stroke="#3a3a3a" stroke-width="0.6"/>
<line x1="186.7" y1="167.5" x2="195.1" y2="184.5" stroke="#3a3a3a" stroke-width="0.5"/>
<line x1="285.8" y1="167.5" x2="292.2" y2="167.5" stroke="#3a3a3a" stroke-width="0.6"/>
<line x1="285.8" y1="167.5" x2="285.8" y2="235.1" stroke="#3a3a3a" stroke-width="0.6"/>
<line x1="285.8" y1="167.5" x2="277.4" y2="184.5" stroke="#3a3a3a" stroke-width="0.5"/>
<rect x="186.7" y="185.2" width="8.4" height="10.6" fill="#000"/>
<rect x="277.4" y="185.2" width="8.4" height="10.6" fill="#000"/>
<ellipse cx="199.6" cy="208.8" rx="4.3" ry="6.2" fill="#363636"/>
<circle cx="199.6" cy="206.32" r="1.5" fill="#3350C0"/>
<path d="M203.6 214.8 V205.4 Q203.6 203.2 205.8 203.2 H207.4 Q209.6 203.2 209.6 205.4 V214.8 Z" fill="#7F38A8"/>
<circle cx="206.6" cy="207.03" r="1.45" fill="#3350C0"/>
<ellipse cx="213.5" cy="208.8" rx="4.2" ry="6.2" fill="#363636"/>
<circle cx="213.5" cy="206.32" r="1.5" fill="#3350C0"/>
<path d="M217.4 214.8 V205.4 Q217.4 203.2 219.6 203.2 H221.4 Q223.6 203.2 223.6 205.4 V214.8 Z" fill="#7F38A8"/>
<circle cx="220.5" cy="207.03" r="1.45" fill="#3350C0"/>
<path d="M223.6 214.8 V205.4 Q223.6 203.2 225.8 203.2 H227.6 Q229.8 203.2 229.8 205.4 V214.8 Z" fill="#7F38A8"/>
<circle cx="226.7" cy="207.03" r="1.45" fill="#3350C0"/>
<path d="M229.8 214.8 V205.4 Q229.8 203.2 232 203.2 H233.8 Q236 203.2 236 205.4 V214.8 Z" fill="#7F38A8"/>
<circle cx="232.9" cy="207.03" r="1.45" fill="#3350C0"/>
<path d="M236 214.8 V205.4 Q236 203.2 238.2 203.2 H240 Q242.2 203.2 242.2 205.4 V214.8 Z" fill="#7F38A8"/>
<circle cx="239.1" cy="207.03" r="1.45" fill="#3350C0"/>
<path d="M242.2 214.8 V205.4 Q242.2 203.2 244.4 203.2 H246.2 Q248.4 203.2 248.4 205.4 V214.8 Z" fill="#7F38A8"/>
<circle cx="245.3" cy="207.03" r="1.45" fill="#3350C0"/>
<ellipse cx="253" cy="208.8" rx="4.5" ry="6.2" fill="#363636"/>
<circle cx="253" cy="206.32" r="1.5" fill="#3350C0"/>
<rect x="257.5" y="204.4" width="7.1" height="10.4" rx="0.6" fill="#F5900F"/>
<line x1="264.7" y1="205.4" x2="264.7" y2="213.8" stroke="#c87010" stroke-width="0.4" stroke-dasharray="1 1"/>
<circle cx="261.05" cy="209.6" r="1.35" fill="#3350C0"/>
<rect x="264.8" y="204.4" width="7" height="10.4" rx="0.6" fill="#F5900F"/>
<line x1="271.9" y1="205.4" x2="271.9" y2="213.8" stroke="#c87010" stroke-width="0.4" stroke-dasharray="1 1"/>
<circle cx="268.3" cy="209.6" r="1.35" fill="#3350C0"/>
<path d="M271.9 214.8 V205.4 Q271.9 203.2 274.1 203.2 H275.4 Q277.6 203.2 277.6 205.4 V214.8 Z" fill="#7F38A8"/>
<circle cx="274.75" cy="207.03" r="1.45" fill="#3350C0"/>
<rect x="194.6" y="214.7" width="2.3" height="2.4" rx="0.4" fill="#000"/>
<rect x="200.05" y="214.7" width="2.3" height="2.4" rx="0.4" fill="#000"/>
<rect x="205.5" y="214.7" width="2.3" height="2.4" rx="0.4" fill="#000"/>
<rect x="210.95" y="214.7" width="2.3" height="2.4" rx="0.4" fill="#000"/>
<rect x="216.4" y="214.7" width="2.3" height="2.4" rx="0.4" fill="#000"/>
<rect x="221.85" y="214.7" width="2.3" height="2.4" rx="0.4" fill="#000"/>
<rect x="227.3" y="214.7" width="2.3" height="2.4" rx="0.4" fill="#000"/>
<rect x="232.75" y="214.7" width="2.3" height="2.4" rx="0.4" fill="#000"/>
<rect x="238.2" y="214.7" width="2.3" height="2.4" rx="0.4" fill="#000"/>
<rect x="243.65" y="214.7" width="2.3" height="2.4" rx="0.4" fill="#000"/>
<rect x="249.1" y="214.7" width="2.3" height="2.4" rx="0.4" fill="#000"/>
<rect x="254.55" y="214.7" width="2.3" height="2.4" rx="0.4" fill="#000"/>
<rect x="260" y="214.7" width="2.3" height="2.4" rx="0.4" fill="#000"/>
<rect x="265.45" y="214.7" width="2.3" height="2.4" rx="0.4" fill="#000"/>
<rect x="270.9" y="214.7" width="2.3" height="2.4" rx="0.4" fill="#000"/>
<circle cx="194.4" cy="227.6" r="2.5" fill="none" stroke="#333" stroke-width="0.8"/>
<text x="197.8" y="229.1" font-size="4.6" fill="#5a5a5a">2</text>
<circle cx="225.2" cy="227.6" r="2.5" fill="none" stroke="#333" stroke-width="0.8"/>
<text x="228.6" y="229.1" font-size="4.6" fill="#5a5a5a">2</text>
<circle cx="251.4" cy="227.6" r="2.5" fill="none" stroke="#333" stroke-width="0.8"/>
<text x="254.8" y="229.1" font-size="4.6" fill="#5a5a5a">2</text>
<circle cx="273.1" cy="227.6" r="2.5" fill="none" stroke="#333" stroke-width="0.8"/>
<text x="276.5" y="229.1" font-size="4.6" fill="#5a5a5a">2</text>
<circle cx="178.1" cy="194.4" r="2.5" fill="none" stroke="#333" stroke-width="0.8"/>
<text x="181.5" y="195.9" font-size="4.6" fill="#5a5a5a">2</text>
<circle cx="178.1" cy="225.4" r="2.5" fill="none" stroke="#333" stroke-width="0.8"/>
<text x="181.5" y="226.9" font-size="4.6" fill="#5a5a5a">2</text>
<circle cx="290.1" cy="203.5" r="2.5" fill="none" stroke="#333" stroke-width="0.8"/>
<circle cx="290.1" cy="236.3" r="2.5" fill="none" stroke="#333" stroke-width="0.8"/>
<circle cx="197.3" cy="240.4" r="2.5" fill="none" stroke="#333" stroke-width="0.8"/>
<text x="200.7" y="241.9" font-size="4.6" fill="#5a5a5a">2</text>
<circle cx="229.2" cy="240.4" r="2.5" fill="none" stroke="#333" stroke-width="0.8"/>
<text x="232.6" y="241.9" font-size="4.6" fill="#5a5a5a">2</text>
<circle cx="262.7" cy="240.4" r="2.5" fill="none" stroke="#333" stroke-width="0.8"/>
<text x="266.1" y="241.9" font-size="4.6" fill="#5a5a5a">2</text>
<line x1="180" y1="246.4" x2="292.2" y2="246.4" stroke="#333" stroke-width="1"/>
<rect x="204.2" y="219.9" width="6" height="6" fill="#008000"/>
<rect x="213.2" y="226.6" width="6" height="6" fill="#008000"/>
<rect x="235.5" y="219.9" width="6" height="6" fill="#008000"/>
<rect x="258.3" y="219" width="6" height="6" fill="#008000"/>
<polygon points="201.9,187.7 206,194.7 197.8,194.7" fill="#FF0000"/>
<polygon points="223.7,191 227.8,198 219.6,198" fill="#FF0000"/>
<polygon points="257.7,190.6 261.8,197.6 253.6,197.6" fill="#FF0000"/>
<polygon points="211.4,193.3 212.72,196.48 216.16,196.75 213.54,199 214.34,202.35 211.4,200.55 208.46,202.35 209.26,199 206.64,196.75 210.08,196.48" fill="#00007F"/>
<polygon points="233.2,188 234.52,191.18 237.96,191.45 235.34,193.7 236.14,197.05 233.2,195.25 230.26,197.05 231.06,193.7 228.44,191.45 231.88,191.18" fill="#00007F"/>
<polygon points="247.1,193.3 248.42,196.48 251.86,196.75 249.24,199 250.04,202.35 247.1,200.55 244.16,202.35 244.96,199 242.34,196.75 245.78,196.48" fill="#00007F"/>
<polygon points="267.8,187.6 269.12,190.78 272.56,191.05 269.94,193.3 270.74,196.65 267.8,194.85 264.86,196.65 265.66,193.3 263.04,191.05 266.48,190.78" fill="#00007F"/>
<text x="216.3" y="177.6" font-size="9" fill="#303030" textLength="40.6" lengthAdjust="spacingAndGlyphs">Anaerobic</text>
<line x1="144" y1="200.3" x2="194.3" y2="200.3" stroke="#F2D56E" stroke-width="1.2"/>
<path d="M145.4 198.2 L141.6 200.3 L145.4 202.4 Z" fill="#F2D56E"/>
<line x1="144" y1="216.2" x2="187" y2="216.2" stroke="#F27BC7" stroke-width="1.2"/>
<path d="M145.4 214.1 L141.6 216.2 L145.4 218.3 Z" fill="#F27BC7"/>
<text x="73.2" y="202.7" font-size="9" fill="#303030" textLength="64.9" lengthAdjust="spacingAndGlyphs">Apical cytokines</text>
<text x="53.5" y="218.5" font-size="9" fill="#303030" textLength="84.6" lengthAdjust="spacingAndGlyphs">Basolateral cytokines</text>
<text x="0.2" y="263.6" font-size="12.5" fill="#000" font-weight="bold">b</text>
<line x1="14.5" y1="302.7" x2="14.5" y2="317.4" stroke="#3F9E96" stroke-width="0.8"/>
<line x1="14.5" y1="349.8" x2="14.5" y2="378.5" stroke="#3F9E96" stroke-width="0.8"/>
<rect x="10.2" y="317.4" width="8.6" height="32.4" fill="#7EBDB6" stroke="#3F9E96" stroke-width="0.8"/>
<line x1="10.2" y1="331.4" x2="18.8" y2="331.4" stroke="#1F8A82" stroke-width="1.2"/>
<line x1="23.5" y1="345.8" x2="23.5" y2="353.2" stroke="#4B8FE0" stroke-width="0.8"/>
<line x1="23.5" y1="368.3" x2="23.5" y2="386.7" stroke="#4B8FE0" stroke-width="0.8"/>
<rect x="19.3" y="353.2" width="8.4" height="15.1" fill="#8DB8EB" stroke="#4B8FE0" stroke-width="0.8"/>
<line x1="19.3" y1="359.1" x2="27.7" y2="359.1" stroke="#2A7DDC" stroke-width="1.2"/>
<line x1="32.85" y1="347.4" x2="32.85" y2="347.4" stroke="#CFA444" stroke-width="0.8"/>
<line x1="32.85" y1="372.4" x2="32.85" y2="373.8" stroke="#CFA444" stroke-width="0.8"/>
<rect x="28.3" y="347.4" width="9.1" height="25" fill="#DDC27F" stroke="#CFA444" stroke-width="0.8"/>
<line x1="28.3" y1="368.3" x2="37.4" y2="368.3" stroke="#BC8A18" stroke-width="1.2"/>
<line x1="42.35" y1="334.2" x2="42.35" y2="339.3" stroke="#DB5F64" stroke-width="0.8"/>
<line x1="42.35" y1="389.2" x2="42.35" y2="456.6" stroke="#DB5F64" stroke-width="0.8"/>
<rect x="38" y="339.3" width="8.7" height="49.9" fill="#E8959A" stroke="#DB5F64" stroke-width="0.8"/>
<line x1="38" y1="353.2" x2="46.7" y2="353.2" stroke="#CF3A42" stroke-width="1.2"/>
<circle cx="32.8" cy="295.1" r="1" fill="#E0B050"/>
<text x="17.5" y="271.6" font-size="5.6" fill="#333" textLength="21.5" lengthAdjust="spacingAndGlyphs"><tspan font-style="italic">P</tspan> = 0.52</text>
<path d="M14.2 273.4 V274.6 H42.7 V273.4" fill="none" stroke="#444" stroke-width="0.5"/>
<text x="12.3" y="280.8" font-size="5.6" fill="#333" textLength="22.6" lengthAdjust="spacingAndGlyphs"><tspan font-style="italic">P</tspan> = 0.94</text>
<path d="M14.2 282.2 V283.4 H32.8 V282.2" fill="none" stroke="#444" stroke-width="0.5"/>
<text x="26.3" y="289.4" font-size="5.6" fill="#333" textLength="22.3" lengthAdjust="spacingAndGlyphs"><tspan font-style="italic">P</tspan> = 0.83</text>
<path d="M32.6 290.8 V292 H42.7 V290.8" fill="none" stroke="#444" stroke-width="0.5"/>
<text x="8.1" y="298.5" font-size="5.6" fill="#333" textLength="21.5" lengthAdjust="spacingAndGlyphs"><tspan font-style="italic">P</tspan> = 0.77</text>
<path d="M14.2 299.8 V301 H23.8 V299.8" fill="none" stroke="#444" stroke-width="0.5"/>
<text x="22.4" y="327.1" font-size="5.6" fill="#333" textLength="21.4" lengthAdjust="spacingAndGlyphs"><tspan font-style="italic">P</tspan> = 0.97</text>
<path d="M23.3 327.8 V329 H42 V327.8" fill="none" stroke="#444" stroke-width="0.5"/>
<text x="19.8" y="337" font-size="5.6" fill="#333" textLength="21.9" lengthAdjust="spacingAndGlyphs"><tspan font-style="italic">P</tspan> = 0.97</text>
<path d="M23.3 337.8 V339 H32.9 V337.8" fill="none" stroke="#444" stroke-width="0.5"/>
<rect x="82.4" y="287.5" width="199.7" height="177.6" fill="none" stroke="#555" stroke-width="0.8"/>
<line x1="80.4" y1="314.4" x2="82.4" y2="314.4" stroke="#555" stroke-width="0.7"/>
<text x="77" y="317.4" font-size="8" fill="#333" text-anchor="end">1</text>
<line x1="80.4" y1="356.4" x2="82.4" y2="356.4" stroke="#555" stroke-width="0.7"/>
<text x="77" y="359.4" font-size="8" fill="#333" text-anchor="end">0</text>
<line x1="80.4" y1="397.6" x2="82.4" y2="397.6" stroke="#555" stroke-width="0.7"/>
<text x="77" y="400.6" font-size="8" fill="#333" text-anchor="end">−1</text>
<line x1="80.4" y1="439.1" x2="82.4" y2="439.1" stroke="#555" stroke-width="0.7"/>
<text x="77" y="442.1" font-size="8" fill="#333" text-anchor="end">−2</text>
<line x1="116.6" y1="465.1" x2="116.6" y2="467.3" stroke="#555" stroke-width="0.7"/>
<line x1="173.4" y1="465.1" x2="173.4" y2="467.3" stroke="#555" stroke-width="0.7"/>
<line x1="230.4" y1="465.1" x2="230.4" y2="467.3" stroke="#555" stroke-width="0.7"/>
<text x="116.4" y="476.9" font-size="8" fill="#333" text-anchor="middle">−20</text>
<text x="230.4" y="476.9" font-size="8" fill="#333" text-anchor="middle">2</text>
<text x="119.4" y="488.6" font-size="9" fill="#303030" textLength="126.1" lengthAdjust="spacingAndGlyphs">Principal component 1 (72.94%)</text>
<text x="64.3" y="432" font-size="9" fill="#303030" textLength="126.4" lengthAdjust="spacingAndGlyphs" transform="rotate(-90 64.3 432)">Principal component 2 (16.48%)</text>
<line x1="111.9" y1="362.6" x2="121" y2="345.6" stroke="#2A7DDC" stroke-width="0.9"/>
<line x1="111.9" y1="362.6" x2="104.6" y2="356.3" stroke="#2A7DDC" stroke-width="0.9"/>
<line x1="111.9" y1="362.6" x2="130.6" y2="386.6" stroke="#2A7DDC" stroke-width="0.9"/>
<line x1="111.9" y1="362.6" x2="91" y2="362.1" stroke="#2A7DDC" stroke-width="0.9"/>
<circle cx="121" cy="345.6" r="2.3" fill="#2A7DDC"/>
<rect x="102.3" y="354" width="4.6" height="4.6" fill="#2A7DDC"/>
<polygon points="130.6,383.8 133.5,388.8 127.7,388.8" fill="#2A7DDC"/>
<line x1="87.4" y1="362.1" x2="94.6" y2="362.1" stroke="#8DB9EE" stroke-width="0.8"/>
<line x1="91" y1="358.5" x2="91" y2="365.7" stroke="#8DB9EE" stroke-width="0.8"/>
<line x1="108.9" y1="362.6" x2="114.9" y2="362.6" stroke="#333" stroke-width="0.7"/>
<line x1="109.78" y1="360.48" x2="114.02" y2="364.72" stroke="#333" stroke-width="0.7"/>
<line x1="111.9" y1="359.6" x2="111.9" y2="365.6" stroke="#333" stroke-width="0.7"/>
<line x1="114.02" y1="360.48" x2="109.78" y2="364.72" stroke="#333" stroke-width="0.7"/>
<line x1="156.2" y1="336.3" x2="168.9" y2="303" stroke="#13857F" stroke-width="0.9"/>
<line x1="156.2" y1="336.3" x2="122.6" y2="340.5" stroke="#13857F" stroke-width="0.9"/>
<line x1="156.2" y1="336.3" x2="151.5" y2="378.5" stroke="#13857F" stroke-width="0.9"/>
<line x1="156.2" y1="336.3" x2="181.5" y2="322.4" stroke="#13857F" stroke-width="0.9"/>
<circle cx="168.9" cy="303" r="2.3" fill="#13857F"/>
<rect x="120.3" y="338.2" width="4.6" height="4.6" fill="#13857F"/>
<polygon points="151.5,375.7 154.4,380.7 148.6,380.7" fill="#13857F"/>
<line x1="177.9" y1="322.4" x2="185.1" y2="322.4" stroke="#3FA39C" stroke-width="0.8"/>
<line x1="181.5" y1="318.8" x2="181.5" y2="326" stroke="#3FA39C" stroke-width="0.8"/>
<line x1="153.2" y1="336.3" x2="159.2" y2="336.3" stroke="#333" stroke-width="0.7"/>
<line x1="154.08" y1="334.18" x2="158.32" y2="338.42" stroke="#333" stroke-width="0.7"/>
<line x1="156.2" y1="333.3" x2="156.2" y2="339.3" stroke="#333" stroke-width="0.7"/>
<line x1="158.32" y1="334.18" x2="154.08" y2="338.42" stroke="#333" stroke-width="0.7"/>
<line x1="188" y1="351.3" x2="221" y2="294.9" stroke="#C8921A" stroke-width="0.9"/>
<line x1="188" y1="351.3" x2="131.6" y2="374.1" stroke="#C8921A" stroke-width="0.9"/>
<line x1="188" y1="351.3" x2="169.3" y2="371.3" stroke="#C8921A" stroke-width="0.9"/>
<line x1="188" y1="351.3" x2="229.3" y2="365.1" stroke="#C8921A" stroke-width="0.9"/>
<circle cx="221" cy="294.9" r="2.3" fill="#C8921A"/>
<rect x="129.3" y="371.8" width="4.6" height="4.6" fill="#C8921A"/>
<polygon points="169.3,368.5 172.2,373.5 166.4,373.5" fill="#C8921A"/>
<line x1="225.7" y1="365.1" x2="232.9" y2="365.1" stroke="#D9B45E" stroke-width="0.8"/>
<line x1="229.3" y1="361.5" x2="229.3" y2="368.7" stroke="#D9B45E" stroke-width="0.8"/>
<line x1="185" y1="351.3" x2="191" y2="351.3" stroke="#333" stroke-width="0.7"/>
<line x1="185.88" y1="349.18" x2="190.12" y2="353.42" stroke="#333" stroke-width="0.7"/>
<line x1="188" y1="348.3" x2="188" y2="354.3" stroke="#333" stroke-width="0.7"/>
<line x1="190.12" y1="349.18" x2="185.88" y2="353.42" stroke="#333" stroke-width="0.7"/>
<line x1="236.6" y1="374.3" x2="273.2" y2="340.7" stroke="#D3393C" stroke-width="0.9"/>
<line x1="236.6" y1="374.3" x2="212.3" y2="366.4" stroke="#D3393C" stroke-width="0.9"/>
<line x1="236.6" y1="374.3" x2="223.2" y2="333.7" stroke="#D3393C" stroke-width="0.9"/>
<line x1="236.6" y1="374.3" x2="237" y2="457.2" stroke="#D3393C" stroke-width="0.9"/>
<circle cx="273.2" cy="340.7" r="2.3" fill="#D3393C"/>
<rect x="210" y="364.1" width="4.6" height="4.6" fill="#D3393C"/>
<polygon points="223.2,330.9 226.1,335.9 220.3,335.9" fill="#D3393C"/>
<line x1="233.4" y1="457.2" x2="240.6" y2="457.2" stroke="#EB9A9D" stroke-width="0.8"/>
<line x1="237" y1="453.6" x2="237" y2="460.8" stroke="#EB9A9D" stroke-width="0.8"/>
<line x1="233.6" y1="374.3" x2="239.6" y2="374.3" stroke="#333" stroke-width="0.7"/>
<line x1="234.48" y1="372.18" x2="238.72" y2="376.42" stroke="#333" stroke-width="0.7"/>
<line x1="236.6" y1="371.3" x2="236.6" y2="377.3" stroke="#333" stroke-width="0.7"/>
<line x1="238.72" y1="372.18" x2="234.48" y2="376.42" stroke="#333" stroke-width="0.7"/>
<text x="285.2" y="318.9" font-size="9" fill="#303030" textLength="40.6" lengthAdjust="spacingAndGlyphs">Treatment</text>
<line x1="285.2" y1="328" x2="294.4" y2="328" stroke="#2A7DDC" stroke-width="0.9"/>
<circle cx="289.7" cy="328" r="2.3" fill="#2A7DDC"/>
<text x="299.2" y="330.2" font-size="7.4" fill="#303030" textLength="50.7" lengthAdjust="spacingAndGlyphs">CFS only (25%)</text>
<line x1="285.2" y1="339.75" x2="294.4" y2="339.75" stroke="#13857F" stroke-width="0.9"/>
<circle cx="289.7" cy="339.75" r="2.3" fill="#13857F"/>
<text x="299.2" y="341.95" font-size="7.4" fill="#303030" textLength="62.5" lengthAdjust="spacingAndGlyphs">CFS (25%) + stimuli</text>
<line x1="285.2" y1="351.5" x2="294.4" y2="351.5" stroke="#C8921A" stroke-width="0.9"/>
<circle cx="289.7" cy="351.5" r="2.3" fill="#C8921A"/>
<text x="299.2" y="353.7" font-size="7.4" fill="#303030" textLength="62.5" lengthAdjust="spacingAndGlyphs">CFS (10%) + stimuli</text>
<line x1="285.2" y1="363.25" x2="294.4" y2="363.25" stroke="#D3393C" stroke-width="0.9"/>
<circle cx="289.7" cy="363.25" r="2.3" fill="#D3393C"/>
<text x="299.2" y="365.45" font-size="7.4" fill="#303030" textLength="41.2" lengthAdjust="spacingAndGlyphs">Stimuli only</text>
<text x="285.2" y="386.4" font-size="9" fill="#303030" textLength="43.2" lengthAdjust="spacingAndGlyphs">CFS tested</text>
<circle cx="289.4" cy="393.3" r="2.3" fill="#000"/>
<text x="299.2" y="395.7" font-size="7.4" fill="#303030" textLength="88.8" lengthAdjust="spacingAndGlyphs"><tspan font-style="italic">C. perfringens pfoA</tspan><tspan font-size="4.5" dy="-3">−</tspan><tspan dy="3"> (AM1)</tspan></text>
<polygon points="289.4,402.25 292.3,407.25 286.5,407.25" fill="#000"/>
<text x="299.2" y="407.35" font-size="7.4" fill="#303030" textLength="56.4" lengthAdjust="spacingAndGlyphs"><tspan font-style="italic">C. tertium</tspan> (JC25)</text>
<rect x="287.1" y="414.3" width="4.6" height="4.6" fill="#000"/>
<text x="299.2" y="419" font-size="7.4" fill="#303030" textLength="92.3" lengthAdjust="spacingAndGlyphs"><tspan font-style="italic">C. perfringens pfoA</tspan><tspan font-size="4.5" dy="-3">+</tspan><tspan dy="3"> (JC26)</tspan></text>
<line x1="285.6" y1="428.25" x2="293.2" y2="428.25" stroke="#000" stroke-width="0.6"/>
<line x1="289.4" y1="424.45" x2="289.4" y2="432.05" stroke="#000" stroke-width="0.6"/>
<text x="299.2" y="430.65" font-size="7.4" fill="#303030" textLength="50.8" lengthAdjust="spacingAndGlyphs"><tspan font-style="italic">B. infantis</tspan> (LB1)</text>
<line x1="212.4" y1="499.55" x2="220.3" y2="499.55" stroke="#DB5F64" stroke-width="0.8"/>
<line x1="246.2" y1="499.55" x2="273.2" y2="499.55" stroke="#DB5F64" stroke-width="0.8"/>
<rect x="220.3" y="495.6" width="25.9" height="7.9" fill="#E8959A" stroke="#DB5F64" stroke-width="0.8"/>
<line x1="230.5" y1="495.6" x2="230.5" y2="503.5" stroke="#CF3A42" stroke-width="1.2"/>
<line x1="132" y1="507.7" x2="160.3" y2="507.7" stroke="#CFA444" stroke-width="0.8"/>
<line x1="223.4" y1="507.7" x2="229" y2="507.7" stroke="#CFA444" stroke-width="0.8"/>
<rect x="160.3" y="504" width="63.1" height="7.4" fill="#DDC27F" stroke="#CFA444" stroke-width="0.8"/>
<line x1="195.7" y1="504" x2="195.7" y2="511.4" stroke="#BC8A18" stroke-width="1.2"/>
<line x1="92.3" y1="515.9" x2="101.3" y2="515.9" stroke="#4B8FE0" stroke-width="0.8"/>
<line x1="123.8" y1="515.9" x2="130.2" y2="515.9" stroke="#4B8FE0" stroke-width="0.8"/>
<rect x="101.3" y="512.5" width="22.5" height="6.8" fill="#8DB8EB" stroke="#4B8FE0" stroke-width="0.8"/>
<line x1="113" y1="512.5" x2="113" y2="519.3" stroke="#2A7DDC" stroke-width="1.2"/>
<line x1="122.9" y1="524.1" x2="144.5" y2="524.1" stroke="#3F9E96" stroke-width="0.8"/>
<line x1="172.6" y1="524.1" x2="181.6" y2="524.1" stroke="#3F9E96" stroke-width="0.8"/>
<rect x="144.5" y="520.2" width="28.1" height="7.8" fill="#7EBDB6" stroke="#3F9E96" stroke-width="0.8"/>
<line x1="160.6" y1="520.2" x2="160.6" y2="528" stroke="#1F8A82" stroke-width="1.2"/>
<path d="M184.1 516.3 H185.4 V524.2 H184.1" fill="none" stroke="#444" stroke-width="0.5"/>
<text x="187.9" y="512" font-size="5.6" fill="#333" textLength="21.8" lengthAdjust="spacingAndGlyphs" transform="rotate(90 187.9 512)"><tspan font-style="italic">P</tspan> = 0.23</text>
<path d="M231.5 507.6 H232.8 V516.2 H231.5" fill="none" stroke="#444" stroke-width="0.5"/>
<text x="235.2" y="505.3" font-size="5.6" fill="#333" textLength="22.3" lengthAdjust="spacingAndGlyphs" transform="rotate(90 235.2 505.3)"><tspan font-style="italic">P</tspan> = 0.02</text>
<path d="M240.7 507.6 H242 V524.2 H240.7" fill="none" stroke="#444" stroke-width="0.5"/>
<text x="245.7" y="504.8" font-size="5.6" fill="#333" textLength="22" lengthAdjust="spacingAndGlyphs" transform="rotate(90 245.7 504.8)"><tspan font-style="italic">P</tspan> = 0.48</text>
<path d="M275.8 499 H277.1 V507.6 H275.8" fill="none" stroke="#444" stroke-width="0.5"/>
<text x="279.3" y="492.9" font-size="5.6" fill="#333" textLength="21" lengthAdjust="spacingAndGlyphs" transform="rotate(90 279.3 492.9)"><tspan font-style="italic">P</tspan> = 0.17</text>
<path d="M285.8 499 H287.1 V516.1 H285.8" fill="none" stroke="#444" stroke-width="0.5"/>
<text x="288.9" y="495" font-size="5.6" fill="#333" textLength="25" lengthAdjust="spacingAndGlyphs" transform="rotate(90 288.9 495)"><tspan font-style="italic">P</tspan> &lt; 0.001</text>
<path d="M296.2 499 H297.5 V524.6 H296.2" fill="none" stroke="#444" stroke-width="0.5"/>
<text x="299" y="499" font-size="5.6" fill="#333" textLength="25.4" lengthAdjust="spacingAndGlyphs" transform="rotate(90 299 499)"><tspan font-style="italic">P</tspan> = 0.014</text>
<text x="406.7" y="263.8" font-size="12.5" fill="#000" font-weight="bold">c</text>
<line x1="412.25" y1="330.1" x2="412.25" y2="376.1" stroke="#3F9E96" stroke-width="0.8"/>
<line x1="412.25" y1="428.5" x2="412.25" y2="456.8" stroke="#3F9E96" stroke-width="0.8"/>
<rect x="407.9" y="376.1" width="8.7" height="52.4" fill="#7EBDB6" stroke="#3F9E96" stroke-width="0.8"/>
<line x1="407.9" y1="405.3" x2="416.6" y2="405.3" stroke="#1F8A82" stroke-width="1.2"/>
<line x1="421.45" y1="331.1" x2="421.45" y2="368.4" stroke="#4B8FE0" stroke-width="0.8"/>
<line x1="421.45" y1="437.5" x2="421.45" y2="442.4" stroke="#4B8FE0" stroke-width="0.8"/>
<rect x="417.3" y="368.4" width="8.3" height="69.1" fill="#8DB8EB" stroke="#4B8FE0" stroke-width="0.8"/>
<line x1="417.3" y1="408.3" x2="425.6" y2="408.3" stroke="#2A7DDC" stroke-width="1.2"/>
<line x1="430.6" y1="338.4" x2="430.6" y2="342" stroke="#CFA444" stroke-width="0.8"/>
<line x1="430.6" y1="394.4" x2="430.6" y2="414.7" stroke="#CFA444" stroke-width="0.8"/>
<rect x="426.3" y="342" width="8.6" height="52.4" fill="#DDC27F" stroke="#CFA444" stroke-width="0.8"/>
<line x1="426.3" y1="365.2" x2="434.9" y2="365.2" stroke="#BC8A18" stroke-width="1.2"/>
<line x1="440.1" y1="295.1" x2="440.1" y2="301.3" stroke="#DB5F64" stroke-width="0.8"/>
<line x1="440.1" y1="328.5" x2="440.1" y2="328.5" stroke="#DB5F64" stroke-width="0.8"/>
<rect x="435.6" y="301.3" width="9" height="27.2" fill="#E8959A" stroke="#DB5F64" stroke-width="0.8"/>
<line x1="435.6" y1="304.8" x2="444.6" y2="304.8" stroke="#CF3A42" stroke-width="1.2"/>
<circle cx="440.1" cy="396" r="1" fill="#E06060"/>
<text x="415.6" y="272.7" font-size="5.6" fill="#333" textLength="20.5" lengthAdjust="spacingAndGlyphs"><tspan font-style="italic">P</tspan> = 0.18</text>
<path d="M411.9 273.7 V274.9 H440.6 V273.7" fill="none" stroke="#444" stroke-width="0.5"/>
<text x="421.9" y="281.6" font-size="5.6" fill="#333" textLength="18.2" lengthAdjust="spacingAndGlyphs"><tspan font-style="italic">P</tspan> = 0.2</text>
<path d="M421.4 282.7 V283.9 H440.6 V282.7" fill="none" stroke="#444" stroke-width="0.5"/>
<text x="424.8" y="290.4" font-size="5.6" fill="#333" textLength="21.3" lengthAdjust="spacingAndGlyphs"><tspan font-style="italic">P</tspan> = 0.55</text>
<path d="M430.3 291.1 V292.3 H440.6 V291.1" fill="none" stroke="#444" stroke-width="0.5"/>
<text x="410.3" y="308.5" font-size="5.6" fill="#333" textLength="22.1" lengthAdjust="spacingAndGlyphs"><tspan font-style="italic">P</tspan> = 0.84</text>
<path d="M411.9 309.5 V310.7 H430.9 V309.5" fill="none" stroke="#444" stroke-width="0.5"/>
<text x="411" y="317.4" font-size="5.6" fill="#333" textLength="11.2" lengthAdjust="spacingAndGlyphs"><tspan font-style="italic">P</tspan> = 1</text>
<path d="M411.9 318 V319.2 H421.6 V318" fill="none" stroke="#444" stroke-width="0.5"/>
<text x="411" y="326.1" font-size="5.6" fill="#333" textLength="22" lengthAdjust="spacingAndGlyphs"><tspan font-style="italic">P</tspan> = 0.86</text>
<path d="M417.1 326.9 V328.1 H426.6 V326.9" fill="none" stroke="#444" stroke-width="0.5"/>
<rect x="479.8" y="286.4" width="200" height="178.5" fill="none" stroke="#555" stroke-width="0.8"/>
<line x1="477.8" y1="321.6" x2="479.8" y2="321.6" stroke="#555" stroke-width="0.7"/>
<text x="474.4" y="324.6" font-size="8" fill="#333" text-anchor="end">1</text>
<line x1="477.8" y1="373" x2="479.8" y2="373" stroke="#555" stroke-width="0.7"/>
<text x="474.4" y="376" font-size="8" fill="#333" text-anchor="end">0</text>
<line x1="477.8" y1="424.5" x2="479.8" y2="424.5" stroke="#555" stroke-width="0.7"/>
<text x="474.4" y="427.5" font-size="8" fill="#333" text-anchor="end">−1</text>
<line x1="484.7" y1="464.9" x2="484.7" y2="467.1" stroke="#555" stroke-width="0.7"/>
<text x="484.7" y="477.1" font-size="8" fill="#333" text-anchor="middle">−3</text>
<line x1="520.4" y1="464.9" x2="520.4" y2="467.1" stroke="#555" stroke-width="0.7"/>
<text x="520.4" y="477.1" font-size="8" fill="#333" text-anchor="middle">−2</text>
<line x1="556.2" y1="464.9" x2="556.2" y2="467.1" stroke="#555" stroke-width="0.7"/>
<text x="556.2" y="477.1" font-size="8" fill="#333" text-anchor="middle">−1</text>
<line x1="592.2" y1="464.9" x2="592.2" y2="467.1" stroke="#555" stroke-width="0.7"/>
<text x="592.2" y="477.1" font-size="8" fill="#333" text-anchor="middle">0</text>
<line x1="627.7" y1="464.9" x2="627.7" y2="467.1" stroke="#555" stroke-width="0.7"/>
<text x="627.7" y="477.1" font-size="8" fill="#333" text-anchor="middle">1</text>
<line x1="663.4" y1="464.9" x2="663.4" y2="467.1" stroke="#555" stroke-width="0.7"/>
<text x="663.4" y="477.1" font-size="8" fill="#333" text-anchor="middle">2</text>
<text x="516.8" y="489.6" font-size="9" fill="#303030" textLength="126.2" lengthAdjust="spacingAndGlyphs">Principal component 1 (57.88%)</text>
<text x="459.8" y="440" font-size="9" fill="#303030" textLength="126.4" lengthAdjust="spacingAndGlyphs" transform="rotate(-90 459.8 440)">Principal component 2 (26.45%)</text>
<line x1="583.5" y1="325" x2="488.9" y2="294.5" stroke="#D3393C" stroke-width="0.9"/>
<line x1="583.5" y1="325" x2="599" y2="303.5" stroke="#D3393C" stroke-width="0.9"/>
<line x1="583.5" y1="325" x2="615.1" y2="306.3" stroke="#D3393C" stroke-width="0.9"/>
<line x1="583.5" y1="325" x2="632.3" y2="395.6" stroke="#D3393C" stroke-width="0.9"/>
<circle cx="488.9" cy="294.5" r="2.3" fill="#D3393C"/>
<polygon points="599,300.7 601.9,305.7 596.1,305.7" fill="#D3393C"/>
<line x1="611.5" y1="306.3" x2="618.7" y2="306.3" stroke="#EB9A9D" stroke-width="0.8"/>
<line x1="615.1" y1="302.7" x2="615.1" y2="309.9" stroke="#EB9A9D" stroke-width="0.8"/>
<rect x="630" y="393.3" width="4.6" height="4.6" fill="#D3393C"/>
<line x1="580.5" y1="325" x2="586.5" y2="325" stroke="#333" stroke-width="0.7"/>
<line x1="581.38" y1="322.88" x2="585.62" y2="327.12" stroke="#333" stroke-width="0.7"/>
<line x1="583.5" y1="322" x2="583.5" y2="328" stroke="#333" stroke-width="0.7"/>
<line x1="585.62" y1="322.88" x2="581.38" y2="327.12" stroke="#333" stroke-width="0.7"/>
<line x1="568.1" y1="370.8" x2="556.4" y2="338.1" stroke="#C8921A" stroke-width="0.9"/>
<line x1="568.1" y1="370.8" x2="589.8" y2="342.9" stroke="#C8921A" stroke-width="0.9"/>
<line x1="568.1" y1="370.8" x2="590" y2="387.4" stroke="#C8921A" stroke-width="0.9"/>
<line x1="568.1" y1="370.8" x2="535.7" y2="414" stroke="#C8921A" stroke-width="0.9"/>
<line x1="552.8" y1="338.1" x2="560" y2="338.1" stroke="#D9B45E" stroke-width="0.8"/>
<line x1="556.4" y1="334.5" x2="556.4" y2="341.7" stroke="#D9B45E" stroke-width="0.8"/>
<circle cx="589.8" cy="342.9" r="2.3" fill="#C8921A"/>
<rect x="587.7" y="385.1" width="4.6" height="4.6" fill="#C8921A"/>
<polygon points="535.7,411.2 538.6,416.2 532.8,416.2" fill="#C8921A"/>
<line x1="565.1" y1="370.8" x2="571.1" y2="370.8" stroke="#333" stroke-width="0.7"/>
<line x1="565.98" y1="368.68" x2="570.22" y2="372.92" stroke="#333" stroke-width="0.7"/>
<line x1="568.1" y1="367.8" x2="568.1" y2="373.8" stroke="#333" stroke-width="0.7"/>
<line x1="570.22" y1="368.68" x2="565.98" y2="372.92" stroke="#333" stroke-width="0.7"/>
<line x1="602.8" y1="399.3" x2="604.3" y2="390.8" stroke="#13857F" stroke-width="0.9"/>
<line x1="602.8" y1="399.3" x2="514" y2="418.5" stroke="#13857F" stroke-width="0.9"/>
<line x1="602.8" y1="399.3" x2="650.2" y2="329.4" stroke="#13857F" stroke-width="0.9"/>
<line x1="602.8" y1="399.3" x2="643.1" y2="456.8" stroke="#13857F" stroke-width="0.9"/>
<circle cx="604.3" cy="390.8" r="2.3" fill="#13857F"/>
<polygon points="514,415.7 516.9,420.7 511.1,420.7" fill="#13857F"/>
<line x1="646.6" y1="329.4" x2="653.8" y2="329.4" stroke="#3FA39C" stroke-width="0.8"/>
<line x1="650.2" y1="325.8" x2="650.2" y2="333" stroke="#3FA39C" stroke-width="0.8"/>
<rect x="640.8" y="454.5" width="4.6" height="4.6" fill="#13857F"/>
<line x1="599.8" y1="399.3" x2="605.8" y2="399.3" stroke="#333" stroke-width="0.7"/>
<line x1="600.68" y1="397.18" x2="604.92" y2="401.42" stroke="#333" stroke-width="0.7"/>
<line x1="602.8" y1="396.3" x2="602.8" y2="402.3" stroke="#333" stroke-width="0.7"/>
<line x1="604.92" y1="397.18" x2="600.68" y2="401.42" stroke="#333" stroke-width="0.7"/>
<line x1="613.4" y1="397.6" x2="640.4" y2="442.4" stroke="#2A7DDC" stroke-width="1.6"/>
<line x1="613.4" y1="397.6" x2="670.7" y2="330.8" stroke="#2A7DDC" stroke-width="0.9"/>
<line x1="613.4" y1="397.6" x2="519.1" y2="435.3" stroke="#2A7DDC" stroke-width="0.9"/>
<line x1="613.4" y1="397.6" x2="640.4" y2="442.4" stroke="#2A7DDC" stroke-width="0.9"/>
<line x1="613.4" y1="397.6" x2="623.2" y2="380.7" stroke="#2A7DDC" stroke-width="0.9"/>
<circle cx="670.7" cy="330.8" r="2.3" fill="#2A7DDC"/>
<polygon points="519.1,432.5 522,437.5 516.2,437.5" fill="#2A7DDC"/>
<rect x="638.1" y="440.1" width="4.6" height="4.6" fill="#2A7DDC"/>
<line x1="619.6" y1="380.7" x2="626.8" y2="380.7" stroke="#8DB9EE" stroke-width="0.8"/>
<line x1="623.2" y1="377.1" x2="623.2" y2="384.3" stroke="#8DB9EE" stroke-width="0.8"/>
<line x1="610.4" y1="397.6" x2="616.4" y2="397.6" stroke="#333" stroke-width="0.7"/>
<line x1="611.28" y1="395.48" x2="615.52" y2="399.72" stroke="#333" stroke-width="0.7"/>
<line x1="613.4" y1="394.6" x2="613.4" y2="400.6" stroke="#333" stroke-width="0.7"/>
<line x1="615.52" y1="395.48" x2="611.28" y2="399.72" stroke="#333" stroke-width="0.7"/>
<line x1="537.2" y1="504.7" x2="537.2" y2="504.7" stroke="#DB5F64" stroke-width="0.8"/>
<line x1="584.8" y1="504.7" x2="598" y2="504.7" stroke="#DB5F64" stroke-width="0.8"/>
<rect x="537.2" y="501.1" width="47.6" height="7.2" fill="#E8959A" stroke="#DB5F64" stroke-width="0.8"/>
<line x1="572.4" y1="501.1" x2="572.4" y2="508.3" stroke="#CF3A42" stroke-width="1.2"/>
<circle cx="454.3" cy="504.7" r="1" fill="#E06060"/>
<line x1="501.7" y1="512.9" x2="517.5" y2="512.9" stroke="#CFA444" stroke-width="0.8"/>
<line x1="555.6" y1="512.9" x2="555.6" y2="512.9" stroke="#CFA444" stroke-width="0.8"/>
<rect x="517.5" y="509.3" width="38.1" height="7.2" fill="#DDC27F" stroke="#CFA444" stroke-width="0.8"/>
<line x1="538.8" y1="509.3" x2="538.8" y2="516.5" stroke="#BC8A18" stroke-width="1.2"/>
<line x1="563.5" y1="521.1" x2="563.5" y2="521.1" stroke="#4B8FE0" stroke-width="0.8"/>
<line x1="613.6" y1="521.1" x2="637.2" y2="521.1" stroke="#4B8FE0" stroke-width="0.8"/>
<rect x="563.5" y="517.5" width="50.1" height="7.2" fill="#8DB8EB" stroke="#4B8FE0" stroke-width="0.8"/>
<line x1="597.3" y1="517.5" x2="597.3" y2="524.7" stroke="#2A7DDC" stroke-width="1.2"/>
<circle cx="484.6" cy="521.1" r="1" fill="#5090E0"/>
<line x1="480.4" y1="529.3" x2="547.4" y2="529.3" stroke="#3F9E96" stroke-width="0.8"/>
<line x1="610.6" y1="529.3" x2="616" y2="529.3" stroke="#3F9E96" stroke-width="0.8"/>
<rect x="547.4" y="525.7" width="63.2" height="7.2" fill="#7EBDB6" stroke="#3F9E96" stroke-width="0.8"/>
<line x1="589.1" y1="525.7" x2="589.1" y2="532.9" stroke="#1F8A82" stroke-width="1.2"/>
<path d="M602.6 503.9 H603.9 V512.7 H602.6" fill="none" stroke="#444" stroke-width="0.5"/>
<text x="606.2" y="494" font-size="5.6" fill="#333" textLength="22.7" lengthAdjust="spacingAndGlyphs" transform="rotate(90 606.2 494)"><tspan font-style="italic">P</tspan> = 0.98</text>
<path d="M637.7 521.2 H639 V529.8 H637.7" fill="none" stroke="#444" stroke-width="0.5"/>
<text x="641" y="513.4" font-size="5.6" fill="#333" textLength="23.6" lengthAdjust="spacingAndGlyphs" transform="rotate(90 641 513.4)"><tspan font-style="italic">P</tspan> = 0.99</text>
<path d="M647.6 512.7 H648.9 V521.2 H647.6" fill="none" stroke="#444" stroke-width="0.5"/>
<text x="650.2" y="505.5" font-size="5.6" fill="#333" textLength="22.3" lengthAdjust="spacingAndGlyphs" transform="rotate(90 650.2 505.5)"><tspan font-style="italic">P</tspan> = 0.68</text>
<path d="M658.1 512.7 H659.4 V529.8 H658.1" fill="none" stroke="#444" stroke-width="0.5"/>
<text x="661.4" y="509.4" font-size="5.6" fill="#333" textLength="22.3" lengthAdjust="spacingAndGlyphs" transform="rotate(90 661.4 509.4)"><tspan font-style="italic">P</tspan> = 0.82</text>
<path d="M667.3 504.2 H668.6 V521.2 H667.3" fill="none" stroke="#444" stroke-width="0.5"/>
<text x="669.9" y="501.6" font-size="5.6" fill="#333" textLength="22.3" lengthAdjust="spacingAndGlyphs" transform="rotate(90 669.9 501.6)"><tspan font-style="italic">P</tspan> = 0.88</text>
<path d="M677.5 504.2 H678.8 V529.8 H677.5" fill="none" stroke="#444" stroke-width="0.5"/>
<text x="679.7" y="505.5" font-size="5.6" fill="#333" textLength="22.3" lengthAdjust="spacingAndGlyphs" transform="rotate(90 679.7 505.5)"><tspan font-style="italic">P</tspan> = 0.96</text>
<text x="-0.6" y="554.6" font-size="12.5" fill="#000" font-weight="bold">d</text>
<text x="72.9" y="558.7" font-size="9" fill="#303030" textLength="56" lengthAdjust="spacingAndGlyphs">Organoid side</text>
<rect x="52.8" y="568.6" width="7.8" height="7.5" fill="#fff" stroke="#333" stroke-width="0.7"/>
<line x1="52.8" y1="576.1" x2="60.6" y2="568.6" stroke="#000" stroke-width="0.9"/>
<text x="64.9" y="573.9" font-size="7.4" fill="#303030" textLength="21.1" lengthAdjust="spacingAndGlyphs">Apical</text>
<rect x="99.4" y="568.6" width="7.8" height="7.5" fill="#fff" stroke="#333" stroke-width="0.7"/>
<text x="111.7" y="573.9" font-size="7.4" fill="#303030" textLength="37.1" lengthAdjust="spacingAndGlyphs">Basolateral</text>
<text x="186.6" y="573" font-size="8.5" fill="#303030" textLength="14.4" lengthAdjust="spacingAndGlyphs">IL-8</text>
<text x="244.9" y="559.1" font-size="9" fill="#303030" textLength="40.4" lengthAdjust="spacingAndGlyphs">Treatment</text>
<rect x="220.3" y="568.5" width="8" height="7.5" fill="#047F7F"/>
<text x="232.7" y="574.3" font-size="7.4" fill="#303030" textLength="64.6" lengthAdjust="spacingAndGlyphs">CFS (25%) + stimuli</text>
<line x1="86.9" y1="583" x2="86.9" y2="829.5" stroke="#ececec" stroke-width="0.7"/>
<line x1="113.73" y1="583" x2="113.73" y2="829.5" stroke="#ececec" stroke-width="0.7"/>
<line x1="140.56" y1="583" x2="140.56" y2="829.5" stroke="#ececec" stroke-width="0.7"/>
<line x1="167.39" y1="583" x2="167.39" y2="829.5" stroke="#ececec" stroke-width="0.7"/>
<line x1="221.05" y1="583" x2="221.05" y2="829.5" stroke="#ececec" stroke-width="0.7"/>
<line x1="247.88" y1="583" x2="247.88" y2="829.5" stroke="#ececec" stroke-width="0.7"/>
<line x1="274.71" y1="583" x2="274.71" y2="829.5" stroke="#ececec" stroke-width="0.7"/>
<line x1="301.54" y1="583" x2="301.54" y2="829.5" stroke="#ececec" stroke-width="0.7"/>
<line x1="74.7" y1="647.3" x2="311" y2="647.3" stroke="#b0b0b0" stroke-width="0.6" stroke-dasharray="2 2.2"/>
<line x1="74.7" y1="706.2" x2="311" y2="706.2" stroke="#b0b0b0" stroke-width="0.6" stroke-dasharray="2 2.2"/>
<line x1="74.7" y1="764.9" x2="311" y2="764.9" stroke="#b0b0b0" stroke-width="0.6" stroke-dasharray="2 2.2"/>
<rect x="151.9" y="591.9" width="41.6" height="26.3" fill="#047F7F" stroke="#1d3a3a" stroke-width="0.5"/>
<rect x="151.9" y="591.9" width="41.6" height="26.3" fill="url(#hd)"/>
<rect x="151.9" y="591.9" width="41.6" height="26.3" fill="none" stroke="#1d3a3a" stroke-width="0.5"/>
<rect x="128.3" y="618.2" width="65.2" height="26.3" fill="#047F7F" stroke="#1d3a3a" stroke-width="0.5"/>
<rect x="193.5" y="650.2" width="68.1" height="26.3" fill="#047F7F" stroke="#1d3a3a" stroke-width="0.5"/>
<rect x="193.5" y="650.2" width="68.1" height="26.3" fill="url(#hd)"/>
<rect x="193.5" y="650.2" width="68.1" height="26.3" fill="none" stroke="#1d3a3a" stroke-width="0.5"/>
<rect x="149.3" y="676.5" width="44.2" height="26.3" fill="#047F7F" stroke="#1d3a3a" stroke-width="0.5"/>
<rect x="184.2" y="709.1" width="9.3" height="26.3" fill="#047F7F" stroke="#1d3a3a" stroke-width="0.5"/>
<rect x="184.2" y="709.1" width="9.3" height="26.3" fill="url(#hd)"/>
<rect x="184.2" y="709.1" width="9.3" height="26.3" fill="none" stroke="#1d3a3a" stroke-width="0.5"/>
<rect x="125.6" y="735.4" width="67.9" height="26.3" fill="#047F7F" stroke="#1d3a3a" stroke-width="0.5"/>
<rect x="163.2" y="767.8" width="30.3" height="26.3" fill="#047F7F" stroke="#1d3a3a" stroke-width="0.5"/>
<rect x="163.2" y="767.8" width="30.3" height="26.3" fill="url(#hd)"/>
<rect x="163.2" y="767.8" width="30.3" height="26.3" fill="none" stroke="#1d3a3a" stroke-width="0.5"/>
<rect x="141.4" y="794.1" width="52.1" height="26.3" fill="#047F7F" stroke="#1d3a3a" stroke-width="0.5"/>
<line x1="193.5" y1="583" x2="193.5" y2="831" stroke="#777" stroke-width="0.6" stroke-dasharray="2 1.6"/>
<line x1="147.7" y1="604.7" x2="156.3" y2="604.7" stroke="#444" stroke-width="0.7"/>
<line x1="147.7" y1="601.7" x2="147.7" y2="607.7" stroke="#444" stroke-width="0.7"/>
<line x1="156.3" y1="601.7" x2="156.3" y2="607.7" stroke="#444" stroke-width="0.7"/>
<circle cx="155" cy="599.1" r="2.4" fill="#C6C6C6" stroke="#5a5a5a" stroke-width="0.6"/>
<circle cx="148.6" cy="610.8" r="2.4" fill="#C6C6C6" stroke="#5a5a5a" stroke-width="0.6"/>
<line x1="116.4" y1="631" x2="138.8" y2="631" stroke="#444" stroke-width="0.7"/>
<line x1="116.4" y1="628" x2="116.4" y2="634" stroke="#444" stroke-width="0.7"/>
<line x1="138.8" y1="628" x2="138.8" y2="634" stroke="#444" stroke-width="0.7"/>
<circle cx="132.5" cy="625" r="2.4" fill="#C6C6C6" stroke="#5a5a5a" stroke-width="0.6"/>
<circle cx="135.6" cy="637.3" r="2.4" fill="#C6C6C6" stroke="#5a5a5a" stroke-width="0.6"/>
<circle cx="116.4" cy="631" r="2.4" fill="#C6C6C6" stroke="#5a5a5a" stroke-width="0.6"/>
<line x1="261.6" y1="658" x2="261.6" y2="668.5" stroke="#555" stroke-width="0.6"/>
<circle cx="261.6" cy="657.7" r="2.4" fill="#C6C6C6" stroke="#5a5a5a" stroke-width="0.6"/>
<circle cx="261.6" cy="668.8" r="2.4" fill="#C6C6C6" stroke="#5a5a5a" stroke-width="0.6"/>
<line x1="133.1" y1="690.5" x2="169" y2="690.5" stroke="#444" stroke-width="0.7"/>
<line x1="133.1" y1="687.5" x2="133.1" y2="693.5" stroke="#444" stroke-width="0.7"/>
<line x1="169" y1="687.5" x2="169" y2="693.5" stroke="#444" stroke-width="0.7"/>
<circle cx="144.6" cy="684.1" r="2.4" fill="#C6C6C6" stroke="#5a5a5a" stroke-width="0.6"/>
<circle cx="171" cy="696.4" r="2.4" fill="#C6C6C6" stroke="#5a5a5a" stroke-width="0.6"/>
<circle cx="133.1" cy="690.5" r="2.4" fill="#C6C6C6" stroke="#5a5a5a" stroke-width="0.6"/>
<line x1="180.8" y1="722.3" x2="186.1" y2="722.3" stroke="#444" stroke-width="0.7"/>
<line x1="180.8" y1="719.3" x2="180.8" y2="725.3" stroke="#444" stroke-width="0.7"/>
<line x1="186.1" y1="719.3" x2="186.1" y2="725.3" stroke="#444" stroke-width="0.7"/>
<circle cx="186.1" cy="716.3" r="2.4" fill="#C6C6C6" stroke="#5a5a5a" stroke-width="0.6"/>
<circle cx="182.1" cy="728.1" r="2.4" fill="#C6C6C6" stroke="#5a5a5a" stroke-width="0.6"/>
<line x1="89.6" y1="748.6" x2="161.9" y2="748.6" stroke="#444" stroke-width="0.7"/>
<line x1="89.6" y1="745.6" x2="89.6" y2="751.6" stroke="#444" stroke-width="0.7"/>
<line x1="161.9" y1="745.6" x2="161.9" y2="751.6" stroke="#444" stroke-width="0.7"/>
<circle cx="125.1" cy="742.6" r="2.4" fill="#C6C6C6" stroke="#5a5a5a" stroke-width="0.6"/>
<circle cx="161.9" cy="754.6" r="2.4" fill="#C6C6C6" stroke="#5a5a5a" stroke-width="0.6"/>
<circle cx="89.6" cy="748.6" r="2.4" fill="#C6C6C6" stroke="#5a5a5a" stroke-width="0.6"/>
<line x1="158.5" y1="778.8" x2="168.4" y2="778.8" stroke="#444" stroke-width="0.7"/>
<line x1="158.5" y1="775.8" x2="158.5" y2="781.8" stroke="#444" stroke-width="0.7"/>
<line x1="168.4" y1="775.8" x2="168.4" y2="781.8" stroke="#444" stroke-width="0.7"/>
<circle cx="166.6" cy="774.9" r="2.4" fill="#C6C6C6" stroke="#5a5a5a" stroke-width="0.6"/>
<circle cx="159.3" cy="786.7" r="2.4" fill="#C6C6C6" stroke="#5a5a5a" stroke-width="0.6"/>
<line x1="125.6" y1="807.2" x2="157.2" y2="807.2" stroke="#444" stroke-width="0.7"/>
<line x1="125.6" y1="804.2" x2="125.6" y2="810.2" stroke="#444" stroke-width="0.7"/>
<line x1="157.2" y1="804.2" x2="157.2" y2="810.2" stroke="#444" stroke-width="0.7"/>
<circle cx="141.4" cy="801.2" r="2.4" fill="#C6C6C6" stroke="#5a5a5a" stroke-width="0.6"/>
<circle cx="156.6" cy="813" r="2.4" fill="#C6C6C6" stroke="#5a5a5a" stroke-width="0.6"/>
<circle cx="125.6" cy="807.2" r="2.4" fill="#C6C6C6" stroke="#5a5a5a" stroke-width="0.6"/>
<text x="116.7" y="598.1" font-size="6.3" fill="#333" textLength="26" lengthAdjust="spacingAndGlyphs">P &lt; 0.001</text>
<text x="92.8" y="625" font-size="6.3" fill="#333" textLength="25.7" lengthAdjust="spacingAndGlyphs">P &lt; 0.001</text>
<text x="264.9" y="655.2" font-size="6.3" fill="#333" textLength="25.3" lengthAdjust="spacingAndGlyphs"><tspan font-style="italic">P</tspan> &lt; 0.001</text>
<text x="100.8" y="682.6" font-size="6.3" fill="#333" textLength="28.8" lengthAdjust="spacingAndGlyphs">P = 0.0017</text>
<text x="152.2" y="717.6" font-size="6.3" fill="#333" textLength="21.5" lengthAdjust="spacingAndGlyphs">P = 0.77</text>
<text x="88.8" y="740.7" font-size="6.3" fill="#333" textLength="25.3" lengthAdjust="spacingAndGlyphs">P &lt; 0.001</text>
<text x="127.7" y="774.4" font-size="6.3" fill="#333" textLength="25.8" lengthAdjust="spacingAndGlyphs">P = 0.768</text>
<text x="103.6" y="800.6" font-size="6.3" fill="#333" textLength="24.9" lengthAdjust="spacingAndGlyphs">P &lt; 0.001</text>
<text x="80.4" y="616.5" font-size="7.7" fill="#303030" text-anchor="end"><tspan font-style="italic">C. perfringens</tspan></text>
<text x="80.4" y="625" font-size="7.7" fill="#303030" text-anchor="end"><tspan font-style="italic">pfoA</tspan><tspan font-size="4.5" dy="-3">−</tspan><tspan dy="3"> (AM1)</tspan></text>
<text x="80.4" y="675.5" font-size="7.7" fill="#303030" text-anchor="end"><tspan font-style="italic">C. tertium</tspan></text>
<text x="80.4" y="684" font-size="7.7" fill="#303030" text-anchor="end">(JC25)</text>
<text x="80.4" y="734.2" font-size="7.7" fill="#303030" text-anchor="end"><tspan font-style="italic">C. perfringens</tspan></text>
<text x="80.4" y="742.8" font-size="7.7" fill="#303030" text-anchor="end"><tspan font-style="italic">pfoA</tspan><tspan font-size="4.5" dy="-3">+</tspan><tspan dy="3"> (JC26)</tspan></text>
<text x="80.4" y="792.5" font-size="7.7" fill="#303030" text-anchor="end"><tspan font-style="italic">B. infantis</tspan></text>
<text x="80.4" y="801.2" font-size="7.7" fill="#303030" text-anchor="end">(LB1)</text>
<text x="26" y="727.7" font-size="8.6" fill="#303030" textLength="43.1" lengthAdjust="spacingAndGlyphs" transform="rotate(-90 26 727.7)">CFS tested</text>
<text x="74.5" y="828.6" font-size="9" fill="#303030" textLength="72.8" lengthAdjust="spacingAndGlyphs">Less inflammation</text>
<text x="229.5" y="828.6" font-size="9" fill="#303030" textLength="75.7" lengthAdjust="spacingAndGlyphs">More inflammation</text>
<text x="86.4" y="838.8" font-size="8" fill="#333" text-anchor="middle">−2</text>
<text x="140" y="838.8" font-size="8" fill="#333" text-anchor="middle">−10</text>
<text x="193.4" y="838.8" font-size="8" fill="#333" text-anchor="middle">0</text>
<text x="247" y="838.8" font-size="8" fill="#333" text-anchor="middle">1</text>
<text x="301.2" y="838.8" font-size="8" fill="#333" text-anchor="middle">2</text>
<text x="93.5" y="850.5" font-size="9" fill="#303030" textLength="201.8" lengthAdjust="spacingAndGlyphs">log<tspan font-size="5.5" dy="2">2</tspan><tspan dy="-2">(fold change in cytokine level vs ‘stimuli only’)</tspan></text>
<text x="363.6" y="555.4" font-size="12.5" fill="#000" font-weight="bold">e</text>
<text x="409.6" y="558.9" font-size="9" fill="#303030" textLength="56.5" lengthAdjust="spacingAndGlyphs">Organoid side</text>
<rect x="389.6" y="568.4" width="7.8" height="7.5" fill="#fff" stroke="#333" stroke-width="0.7"/>
<line x1="389.6" y1="575.9" x2="397.4" y2="568.4" stroke="#000" stroke-width="0.9"/>
<text x="402.3" y="574.2" font-size="7.4" fill="#303030" textLength="21.3" lengthAdjust="spacingAndGlyphs">Apical</text>
<rect x="436.5" y="568.4" width="7.8" height="7.5" fill="#fff" stroke="#333" stroke-width="0.7"/>
<text x="448.5" y="574.2" font-size="7.4" fill="#303030" textLength="37.3" lengthAdjust="spacingAndGlyphs">Basolateral</text>
<text x="539.2" y="572.8" font-size="8.5" fill="#303030" textLength="15.2" lengthAdjust="spacingAndGlyphs">IL-8</text>
<text x="602.7" y="558.9" font-size="9" fill="#303030" textLength="40.2" lengthAdjust="spacingAndGlyphs">Treatment</text>
<rect x="585.1" y="568.4" width="7.4" height="7.3" fill="#1A76D2"/>
<text x="597" y="574.2" font-size="7.4" fill="#303030" textLength="51.2" lengthAdjust="spacingAndGlyphs">CFS only (25%)</text>
<line x1="432.5" y1="584" x2="432.5" y2="829.5" stroke="#ececec" stroke-width="0.7"/>
<line x1="470.73" y1="584" x2="470.73" y2="829.5" stroke="#ececec" stroke-width="0.7"/>
<line x1="508.96" y1="584" x2="508.96" y2="829.5" stroke="#ececec" stroke-width="0.7"/>
<line x1="585.42" y1="584" x2="585.42" y2="829.5" stroke="#ececec" stroke-width="0.7"/>
<line x1="623.65" y1="584" x2="623.65" y2="829.5" stroke="#ececec" stroke-width="0.7"/>
<line x1="661.88" y1="584" x2="661.88" y2="829.5" stroke="#ececec" stroke-width="0.7"/>
<line x1="421" y1="648.2" x2="675" y2="648.2" stroke="#b0b0b0" stroke-width="0.6" stroke-dasharray="2 2.2"/>
<line x1="421" y1="706.6" x2="675" y2="706.6" stroke="#b0b0b0" stroke-width="0.6" stroke-dasharray="2 2.2"/>
<line x1="421" y1="765.4" x2="675" y2="765.4" stroke="#b0b0b0" stroke-width="0.6" stroke-dasharray="2 2.2"/>
<rect x="546.7" y="592.2" width="12.5" height="26.4" fill="#1A76D2" stroke="#1d3a3a" stroke-width="0.5"/>
<rect x="546.7" y="592.2" width="12.5" height="26.4" fill="url(#he)"/>
<rect x="546.7" y="592.2" width="12.5" height="26.4" fill="none" stroke="#1d3a3a" stroke-width="0.5"/>
<rect x="546.7" y="618.6" width="23.8" height="26.4" fill="#1A76D2" stroke="#1d3a3a" stroke-width="0.5"/>
<rect x="546.7" y="650.9" width="86.2" height="26.4" fill="#1A76D2" stroke="#1d3a3a" stroke-width="0.5"/>
<rect x="546.7" y="650.9" width="86.2" height="26.4" fill="url(#he)"/>
<rect x="546.7" y="650.9" width="86.2" height="26.4" fill="none" stroke="#1d3a3a" stroke-width="0.5"/>
<rect x="546.7" y="677.3" width="76.7" height="26.4" fill="#1A76D2" stroke="#1d3a3a" stroke-width="0.5"/>
<rect x="546.7" y="709.3" width="24.9" height="26.4" fill="#1A76D2" stroke="#1d3a3a" stroke-width="0.5"/>
<rect x="546.7" y="709.3" width="24.9" height="26.4" fill="url(#he)"/>
<rect x="546.7" y="709.3" width="24.9" height="26.4" fill="none" stroke="#1d3a3a" stroke-width="0.5"/>
<rect x="531.1" y="735.7" width="15.6" height="26.4" fill="#1A76D2" stroke="#1d3a3a" stroke-width="0.5"/>
<rect x="546.7" y="768.1" width="25.3" height="26.4" fill="#1A76D2" stroke="#1d3a3a" stroke-width="0.5"/>
<rect x="546.7" y="768.1" width="25.3" height="26.4" fill="url(#he)"/>
<rect x="546.7" y="768.1" width="25.3" height="26.4" fill="none" stroke="#1d3a3a" stroke-width="0.5"/>
<rect x="524.3" y="794.5" width="22.4" height="26.4" fill="#1A76D2" stroke="#1d3a3a" stroke-width="0.5"/>
<line x1="546.7" y1="584" x2="546.7" y2="831" stroke="#777" stroke-width="0.6" stroke-dasharray="2 1.6"/>
<line x1="544.2" y1="605.4" x2="572" y2="605.4" stroke="#444" stroke-width="0.7"/>
<line x1="572" y1="602.4" x2="572" y2="608.4" stroke="#444" stroke-width="0.7"/>
<circle cx="563.9" cy="599.2" r="2.4" fill="#C6C6C6" stroke="#5a5a5a" stroke-width="0.6"/>
<circle cx="568.5" cy="611" r="2.4" fill="#C6C6C6" stroke="#5a5a5a" stroke-width="0.6"/>
<circle cx="544.2" cy="605.4" r="2.4" fill="#C6C6C6" stroke="#5a5a5a" stroke-width="0.6"/>
<line x1="557.6" y1="631.6" x2="583.2" y2="631.6" stroke="#444" stroke-width="0.7"/>
<line x1="583.2" y1="628.6" x2="583.2" y2="634.6" stroke="#444" stroke-width="0.7"/>
<circle cx="570.5" cy="625.7" r="2.4" fill="#C6C6C6" stroke="#5a5a5a" stroke-width="0.6"/>
<circle cx="557.6" cy="631.6" r="2.4" fill="#C6C6C6" stroke="#5a5a5a" stroke-width="0.6"/>
<circle cx="583" cy="637.6" r="2.4" fill="#C6C6C6" stroke="#5a5a5a" stroke-width="0.6"/>
<line x1="627.2" y1="664.1" x2="638.6" y2="664.1" stroke="#444" stroke-width="0.7"/>
<line x1="638.6" y1="661.1" x2="638.6" y2="667.1" stroke="#444" stroke-width="0.7"/>
<circle cx="632.5" cy="658.4" r="2.4" fill="#C6C6C6" stroke="#5a5a5a" stroke-width="0.6"/>
<circle cx="627.2" cy="664.1" r="2.4" fill="#C6C6C6" stroke="#5a5a5a" stroke-width="0.6"/>
<circle cx="638.6" cy="670" r="2.4" fill="#C6C6C6" stroke="#5a5a5a" stroke-width="0.6"/>
<line x1="623.4" y1="687" x2="623.4" y2="694" stroke="#555" stroke-width="0.6"/>
<line x1="621.8" y1="690.5" x2="625" y2="690.5" stroke="#555" stroke-width="0.6"/>
<circle cx="624.3" cy="684.6" r="2.4" fill="#C6C6C6" stroke="#5a5a5a" stroke-width="0.6"/>
<circle cx="622" cy="696.4" r="2.4" fill="#C6C6C6" stroke="#5a5a5a" stroke-width="0.6"/>
<line x1="561.7" y1="722.1" x2="581.6" y2="722.1" stroke="#444" stroke-width="0.7"/>
<line x1="581.6" y1="719.1" x2="581.6" y2="725.1" stroke="#444" stroke-width="0.7"/>
<circle cx="571.4" cy="716.3" r="2.4" fill="#C6C6C6" stroke="#5a5a5a" stroke-width="0.6"/>
<circle cx="561.7" cy="722.5" r="2.4" fill="#C6C6C6" stroke="#5a5a5a" stroke-width="0.6"/>
<circle cx="581.6" cy="728.2" r="2.4" fill="#C6C6C6" stroke="#5a5a5a" stroke-width="0.6"/>
<line x1="516.8" y1="749" x2="545.4" y2="749" stroke="#444" stroke-width="0.7"/>
<line x1="516.8" y1="746" x2="516.8" y2="752" stroke="#444" stroke-width="0.7"/>
<line x1="545.4" y1="746" x2="545.4" y2="752" stroke="#444" stroke-width="0.7"/>
<circle cx="526.6" cy="742.9" r="2.4" fill="#C6C6C6" stroke="#5a5a5a" stroke-width="0.6"/>
<circle cx="518.8" cy="749" r="2.4" fill="#C6C6C6" stroke="#5a5a5a" stroke-width="0.6"/>
<circle cx="547" cy="754.8" r="2.4" fill="#C6C6C6" stroke="#5a5a5a" stroke-width="0.6"/>
<line x1="558.7" y1="781.3" x2="586.3" y2="781.3" stroke="#444" stroke-width="0.7"/>
<line x1="586.3" y1="778.3" x2="586.3" y2="784.3" stroke="#444" stroke-width="0.7"/>
<circle cx="567.5" cy="775.2" r="2.4" fill="#C6C6C6" stroke="#5a5a5a" stroke-width="0.6"/>
<circle cx="560.7" cy="781.3" r="2.4" fill="#C6C6C6" stroke="#5a5a5a" stroke-width="0.6"/>
<circle cx="587.9" cy="786.9" r="2.4" fill="#C6C6C6" stroke="#5a5a5a" stroke-width="0.6"/>
<line x1="519.9" y1="807.3" x2="529" y2="807.3" stroke="#444" stroke-width="0.7"/>
<line x1="519.9" y1="804.3" x2="519.9" y2="810.3" stroke="#444" stroke-width="0.7"/>
<line x1="529" y1="804.3" x2="529" y2="810.3" stroke="#444" stroke-width="0.7"/>
<circle cx="525.4" cy="801.6" r="2.4" fill="#C6C6C6" stroke="#5a5a5a" stroke-width="0.6"/>
<circle cx="519.9" cy="807.3" r="2.4" fill="#C6C6C6" stroke="#5a5a5a" stroke-width="0.6"/>
<circle cx="528.4" cy="813" r="2.4" fill="#C6C6C6" stroke="#5a5a5a" stroke-width="0.6"/>
<text x="574" y="599.7" font-size="6.3" fill="#333" textLength="25" lengthAdjust="spacingAndGlyphs">P = 0.492</text>
<text x="577" y="626.8" font-size="6.3" fill="#333" textLength="11.1" lengthAdjust="spacingAndGlyphs">P = 1</text>
<text x="635.3" y="655.6" font-size="6.3" fill="#333" textLength="26" lengthAdjust="spacingAndGlyphs">P &lt; 0.001</text>
<text x="631.9" y="684.0" font-size="6.3" fill="#333" textLength="26.2" lengthAdjust="spacingAndGlyphs">P = 0.056</text>
<text x="577.7" y="716.3" font-size="6.3" fill="#333" textLength="22.5" lengthAdjust="spacingAndGlyphs">P = 0.03</text>
<text x="493.3" y="740.3" font-size="6.3" fill="#333" textLength="23.1" lengthAdjust="spacingAndGlyphs">P = 0.98</text>
<text x="577.1" y="773.0" font-size="6.3" fill="#333" textLength="25.1" lengthAdjust="spacingAndGlyphs">P = 0.362</text>
<text x="492.9" y="798.7" font-size="6.3" fill="#333" textLength="22.5" lengthAdjust="spacingAndGlyphs">P = 0.98</text>
<text x="426" y="616" font-size="7.7" fill="#303030" text-anchor="end"><tspan font-style="italic">C. perfringens</tspan></text>
<text x="426" y="625.5" font-size="7.7" fill="#303030" text-anchor="end"><tspan font-style="italic">pfoA</tspan><tspan font-size="4.5" dy="-3">−</tspan><tspan dy="3"> (AM1)</tspan></text>
<text x="426" y="675.6" font-size="7.7" fill="#303030" text-anchor="end"><tspan font-style="italic">C. tertium</tspan></text>
<text x="426" y="684.4" font-size="7.7" fill="#303030" text-anchor="end">(JC25)</text>
<text x="426" y="733.5" font-size="7.7" fill="#303030" text-anchor="end"><tspan font-style="italic">C. perfringens</tspan></text>
<text x="426" y="742.3" font-size="7.7" fill="#303030" text-anchor="end"><tspan font-style="italic">pfoA</tspan><tspan font-size="4.5" dy="-3">+</tspan><tspan dy="3"> (JC26)</tspan></text>
<text x="426" y="792.2" font-size="7.7" fill="#303030" text-anchor="end"><tspan font-style="italic">B. infantis</tspan></text>
<text x="426" y="800.8" font-size="7.7" fill="#303030" text-anchor="end">(LB1)</text>
<text x="372" y="727.9" font-size="8.6" fill="#303030" textLength="43.3" lengthAdjust="spacingAndGlyphs" transform="rotate(-90 372 727.9)">CFS tested</text>
<text x="420" y="829" font-size="9" fill="#303030" textLength="73.1" lengthAdjust="spacingAndGlyphs">Less inflammation</text>
<text x="590.6" y="829" font-size="9" fill="#303030" textLength="75.1" lengthAdjust="spacingAndGlyphs">More inflammation</text>
<text x="470.8" y="838.6" font-size="8" fill="#333" text-anchor="middle">−2</text>
<text x="547" y="838.6" font-size="8" fill="#333" text-anchor="middle">0</text>
<text x="623" y="838.6" font-size="8" fill="#333" text-anchor="middle">2</text>
<text x="443.3" y="851.1" font-size="9" fill="#303030" textLength="206.7" lengthAdjust="spacingAndGlyphs">log<tspan font-size="5.5" dy="2">2</tspan><tspan dy="-2">(fold change in cytokine level vs ‘no treatment’)</tspan></text>
</svg></body></html>
